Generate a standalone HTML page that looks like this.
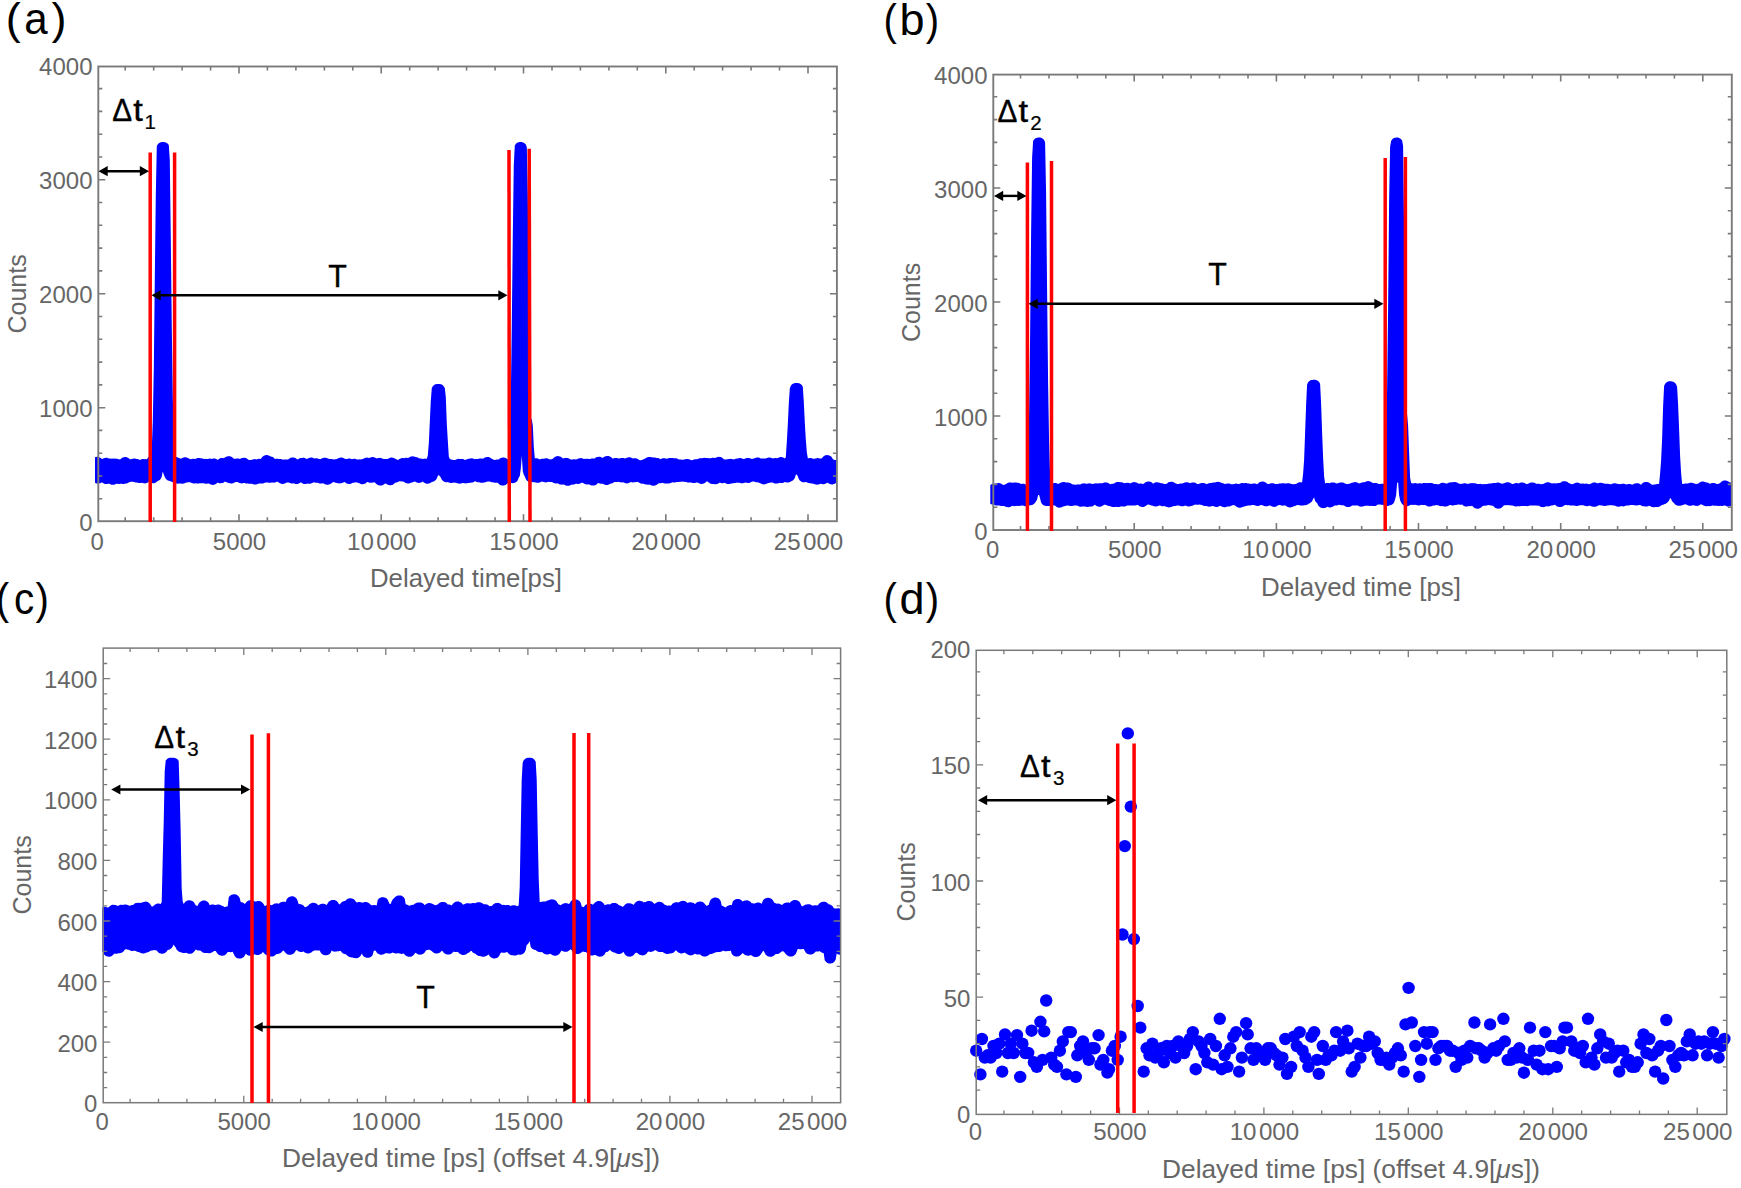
<!DOCTYPE html>
<html><head><meta charset="utf-8"><title>Delayed time histograms</title>
<style>
html,body{margin:0;padding:0;background:#fff;}
body{width:1741px;height:1188px;overflow:hidden;}
svg{display:block;font-family:"Liberation Sans",sans-serif;}
</style></head><body>
<svg width="1741" height="1188" viewBox="0 0 1741 1188">
<rect width="1741" height="1188" fill="#fff"/>
<g id="pa">
<clipPath id="ca"><rect x="95" y="60" width="742" height="470"/></clipPath>
<path clip-path="url(#ca)" fill="#0000ff" d="M91.8 460.1L92.8 458.7L93.8 457.8L94.8 457.3L95.8 456.9L96.8 456.8L97.8 456.8L98.8 457L99.8 457.4L100.8 458L101.8 458.9L102.8 458.8L103.8 458.3L104.8 457.9L105.8 457.8L106.8 457.8L107.8 458L108.8 458.4L109.8 458.6L110.8 458.6L111.8 458.8L112.8 458.6L113.8 458.6L114.8 458.7L115.8 458.6L116.8 458.7L117.8 458.9L118.8 459.3L119.8 459.6L120.8 459L121.8 458.1L122.8 457.6L123.8 457.3L124.8 457.1L125.8 457.1L126.8 457.3L127.8 457.7L128.8 458.3L129.8 459.3L130.8 459.2L131.8 459.1L132.8 458.7L133.8 458.5L134.8 458.5L135.8 458.7L136.8 458.9L137.8 459.1L138.8 459.4L139.8 459.9L140.8 459.5L141.8 459.2L142.8 459L143.8 459L144.8 459.2L145.8 459.1L146.8 459.2L147.8 457.9L148.8 456.8L149.8 456.2L150.8 455.7L151.8 448.1L152.8 420.6L153.8 369L154.8 279.3L155.8 195L156.8 146L157.8 144.2L158.8 143.3L159.8 142.7L160.8 142.3L161.8 142.1L162.8 142.1L163.8 142.1L164.8 142.2L165.8 142.5L166.8 142.9L167.8 143.7L168.8 145L169.8 160.1L170.8 237.9L171.8 327.1L172.8 396.8L173.8 436L174.8 456.5L175.8 456.9L176.8 457.1L177.8 457.5L178.8 458.1L179.8 458.3L180.8 458.7L181.8 458.3L182.8 457.7L183.8 457.4L184.8 457.3L185.8 457.3L186.8 457.5L187.8 457.9L188.8 458.5L189.8 459.1L190.8 459.2L191.8 458.9L192.8 458.8L193.8 458.8L194.8 459.1L195.8 458.7L196.8 458.3L197.8 458.1L198.8 458L199.8 458.1L200.8 458.3L201.8 458.4L202.8 458.6L203.8 458.9L204.8 458.9L205.8 458.8L206.8 458.9L207.8 458.9L208.8 458.7L209.8 458.6L210.8 458.8L211.8 458.9L212.8 458.6L213.8 458.5L214.8 458.5L215.8 458.8L216.8 459.2L217.8 459.9L218.8 459L219.8 458.5L220.8 458.1L221.8 458L222.8 458L223.8 458.2L224.8 457.6L225.8 456.9L226.8 456.5L227.8 456.3L228.8 456.2L229.8 456.3L230.8 456.6L231.8 457.1L232.8 457.8L233.8 458.7L234.8 458.8L235.8 458.8L236.8 458.5L237.8 458.5L238.8 458.6L239.8 458.9L240.8 458.6L241.8 458.1L242.8 457.9L243.8 457.8L244.8 457.8L245.8 458.1L246.8 458.5L247.8 459.2L248.8 460L249.8 460L250.8 459.9L251.8 459.8L252.8 459.4L253.8 459.2L254.8 459.1L255.8 459.2L256.8 459.4L257.8 459L258.8 458.8L259.8 458.8L260.8 458.9L261.8 457.6L262.8 456.5L263.8 455.8L264.8 455.4L265.8 455.1L266.8 455.1L267.8 455.2L268.8 455.5L269.8 455.9L270.8 456.5L271.8 456.7L272.8 457.1L273.8 457.8L274.8 458.9L275.8 458.8L276.8 458.7L277.8 458.7L278.8 459L279.8 458.9L280.8 459L281.8 459.3L282.8 459.7L283.8 459.6L284.8 459.6L285.8 459.6L286.8 459.6L287.8 459.4L288.8 459L289.8 458.3L290.8 457.8L291.8 457.5L292.8 457.4L293.8 457.5L294.8 457.7L295.8 458.2L296.8 458.9L297.8 459.5L298.8 458.8L299.8 458.3L300.8 458L301.8 457.9L302.8 457.8L303.8 457.8L304.8 458L305.8 458.4L306.8 459L307.8 458.6L308.8 458.1L309.8 457.7L310.8 457.6L311.8 457.6L312.8 457.8L313.8 458.2L314.8 458.5L315.8 458.3L316.8 458.3L317.8 458.5L318.8 458.9L319.8 459L320.8 459.1L321.8 458.4L322.8 458L323.8 457.7L324.8 457.7L325.8 457.8L326.8 458.1L327.8 458.5L328.8 458.7L329.8 458.9L330.8 458.9L331.8 459L332.8 459.3L333.8 459.5L334.8 459.3L335.8 459.2L336.8 458.9L337.8 458.6L338.8 458.1L339.8 457.8L340.8 457.6L341.8 457.6L342.8 457.8L343.8 458.2L344.8 458.7L345.8 459L346.8 459L347.8 458.7L348.8 458.6L349.8 458.6L350.8 458.8L351.8 459.2L352.8 458.9L353.8 458.8L354.8 458.8L355.8 459L356.8 459.4L357.8 459.6L358.8 459.4L359.8 459.3L360.8 459.4L361.8 459.2L362.8 458.9L363.8 458.5L364.8 458L365.8 457.7L366.8 457.6L367.8 457.7L368.8 457.9L369.8 457.8L370.8 457.4L371.8 457.1L372.8 457.1L373.8 457.2L374.8 457.5L375.8 458L376.8 458.5L377.8 458.1L378.8 457.9L379.8 457.8L380.8 457.9L381.8 458.2L382.8 458.7L383.8 459L384.8 458.9L385.8 458.9L386.8 459.1L387.8 459L388.8 458.3L389.8 457.9L390.8 457.6L391.8 457.6L392.8 457.7L393.8 458L394.8 458.4L395.8 459L396.8 459.5L397.8 460.1L398.8 459.5L399.8 458.8L400.8 458.4L401.8 458.1L402.8 458.1L403.8 458.2L404.8 457.9L405.8 457.7L406.8 457.7L407.8 457.9L408.8 457.8L409.8 457.1L410.8 456.6L411.8 456.4L412.8 456.3L413.8 456.4L414.8 456.7L415.8 456.9L416.8 457.2L417.8 457.6L418.8 458.3L419.8 458.6L420.8 458.6L421.8 458.7L422.8 458.9L423.8 458.7L424.8 458.6L425.8 458.7L426.8 458.8L427.8 455.4L428.8 443.6L429.8 422L430.8 400.7L431.8 388L432.8 386.3L433.8 385.3L434.8 384.6L435.8 384.2L436.8 383.9L437.8 383.9L438.8 383.9L439.8 383.9L440.8 384.2L441.8 384.6L442.8 385.3L443.8 386.4L444.8 387.9L445.8 396.9L446.8 423.7L447.8 440.4L448.8 456.5L449.8 458.9L450.8 459.3L451.8 459.7L452.8 459.8L453.8 459.9L454.8 460L455.8 459.7L456.8 459.2L457.8 458.9L458.8 458.8L459.8 458.9L460.8 458.9L461.8 458.9L462.8 459L463.8 459.3L464.8 459.9L465.8 459.7L466.8 459.2L467.8 458.9L468.8 458.8L469.8 458.6L470.8 458.4L471.8 458.3L472.8 458.4L473.8 458.7L474.8 459.2L475.8 459L476.8 458.9L477.8 459L478.8 458.8L479.8 458.6L480.8 458.5L481.8 458.6L482.8 458.8L483.8 458.2L484.8 457.5L485.8 457.2L486.8 457L487.8 456.9L488.8 457.1L489.8 457.4L490.8 458L491.8 458.8L492.8 459.3L493.8 459.8L494.8 460L495.8 459.7L496.8 459.6L497.8 459.6L498.8 459.4L499.8 458.6L500.8 458L501.8 457.7L502.8 457.6L503.8 457.6L504.8 457.8L505.8 458.1L506.8 458.8L507.8 459.4L508.8 458.7L509.8 439.9L510.8 397.8L511.8 323.8L512.8 235.5L513.8 165.1L514.8 145.4L515.8 144L516.8 143.1L517.8 142.6L518.8 142.2L519.8 142.1L520.8 142.1L521.8 142.1L522.8 142.4L523.8 142.8L524.8 143.5L525.8 144.6L526.8 146.9L527.8 193.9L528.8 281.8L529.8 364.8L530.8 418.2L531.8 419.6L532.8 425.6L533.8 447L534.8 458.3L535.8 458.2L536.8 458.3L537.8 458.6L538.8 459.1L539.8 459.4L540.8 459.1L541.8 458.8L542.8 458.7L543.8 458.7L544.8 458.5L545.8 458.3L546.8 458.3L547.8 458.5L548.8 458.9L549.8 459.4L550.8 459.2L551.8 459.2L552.8 458.8L553.8 457.7L554.8 457L555.8 456.5L556.8 456.2L557.8 456.1L558.8 456.2L559.8 456.4L560.8 456.8L561.8 457.5L562.8 458.6L563.8 458.3L564.8 458L565.8 457.8L566.8 457.9L567.8 458L568.8 458.4L569.8 459L570.8 459.5L571.8 459.6L572.8 459.4L573.8 459.3L574.8 459.2L575.8 459.4L576.8 459.3L577.8 458.8L578.8 458.4L579.8 458.2L580.8 458.1L581.8 458.2L582.8 458.5L583.8 458.9L584.8 458.8L585.8 459L586.8 458.8L587.8 458.8L588.8 458.9L589.8 459L590.8 458.7L591.8 458.5L592.8 458.5L593.8 458.6L594.8 458.4L595.8 457.6L596.8 457.1L597.8 456.9L598.8 456.7L599.8 456.8L600.8 457L601.8 457.5L602.8 458.1L603.8 457.1L604.8 456.5L605.8 456.2L606.8 456L607.8 455.9L608.8 456.1L609.8 456.4L610.8 457L611.8 457.8L612.8 458.8L613.8 458.3L614.8 458L615.8 457.9L616.8 458L617.8 458.2L618.8 458.4L619.8 458.4L620.8 458L621.8 457.9L622.8 457.9L623.8 458.1L624.8 458.5L625.8 458.3L626.8 457.7L627.8 457.4L628.8 457.3L629.8 457.3L630.8 457.5L631.8 457.9L632.8 458.5L633.8 458.2L634.8 458.2L635.8 458.3L636.8 458.5L637.8 459L638.8 459.8L639.8 460.3L640.8 460.3L641.8 460L642.8 459.6L643.8 459.2L644.8 458.7L645.8 458.1L646.8 457.6L647.8 457.3L648.8 457.1L649.8 457L650.8 457L651.8 457.2L652.8 457.6L653.8 457.5L654.8 457.5L655.8 457.7L656.8 457.9L657.8 458L658.8 458.3L659.8 458.8L660.8 459.2L661.8 458.6L662.8 458.3L663.8 458.2L664.8 458.2L665.8 458.4L666.8 458.7L667.8 458.4L668.8 458.1L669.8 458L670.8 457.9L671.8 457.9L672.8 458L673.8 458.3L674.8 458.2L675.8 458.2L676.8 458.4L677.8 458.8L678.8 459.4L679.8 459.5L680.8 459.5L681.8 459.7L682.8 459.7L683.8 459.5L684.8 459.4L685.8 459.1L686.8 459L687.8 459.1L688.8 459.2L689.8 459.5L690.8 460L691.8 460.2L692.8 460.1L693.8 459.6L694.8 459.3L695.8 459.2L696.8 459.3L697.8 459.1L698.8 458.6L699.8 458.3L700.8 458.2L701.8 458.2L702.8 458.1L703.8 457.9L704.8 457.8L705.8 457.9L706.8 458.1L707.8 458L708.8 458.2L709.8 458.3L710.8 458.2L711.8 457.9L712.8 457.7L713.8 457.7L714.8 457.9L715.8 457.7L716.8 457.2L717.8 456.9L718.8 456.8L719.8 456.9L720.8 457.1L721.8 457.6L722.8 458.3L723.8 459.3L724.8 459.4L725.8 459.4L726.8 459.3L727.8 459.2L728.8 459.1L729.8 458.9L730.8 458.8L731.8 459L732.8 459.3L733.8 459.5L734.8 459L735.8 458.7L736.8 458.6L737.8 458.4L738.8 458.2L739.8 458.1L740.8 458.1L741.8 458.4L742.8 458.8L743.8 458.9L744.8 458.8L745.8 458.3L746.8 458L747.8 457.9L748.8 458L749.8 458.2L750.8 458.6L751.8 459.1L752.8 458.7L753.8 458.4L754.8 458.2L755.8 457.8L756.8 457.6L757.8 457.5L758.8 457.6L759.8 457.9L760.8 458.4L761.8 458.5L762.8 458.4L763.8 458.4L764.8 458.6L765.8 458.6L766.8 458L767.8 457.7L768.8 457.5L769.8 457.5L770.8 457.7L771.8 458.1L772.8 458.5L773.8 458.2L774.8 458.1L775.8 458.1L776.8 458.3L777.8 457.9L778.8 457.5L779.8 457.2L780.8 457.1L781.8 457.1L782.8 457.4L783.8 457.8L784.8 458.5L785.8 457.2L786.8 442.3L787.8 424.7L788.8 403.4L789.8 388.5L790.8 385.8L791.8 384.6L792.8 383.8L793.8 383.4L794.8 383.1L795.8 383L796.8 383L797.8 383L798.8 383.2L799.8 383.6L800.8 384.2L801.8 385.1L802.8 386.8L803.8 402.1L804.8 422.5L805.8 439.5L806.8 451.9L807.8 458.3L808.8 458.3L809.8 458.1L810.8 458.1L811.8 458.2L812.8 458.6L813.8 458.9L814.8 458.6L815.8 458.4L816.8 458.2L817.8 458.1L818.8 458.2L819.8 458.5L820.8 458.6L821.8 458.5L822.8 457L823.8 456.2L824.8 455.6L825.8 455.3L826.8 455.1L827.8 455.2L828.8 455.3L829.8 455.7L830.8 456.3L831.8 457.3L832.8 459L833.8 459.7L834.8 459.9L835.8 460.1L836.8 460.2L837.8 460.5L838.8 461.1L839.8 461.9L840.8 463.4L841.8 465.2L841.8 478.8L840.8 480.5L839.8 481.5L838.8 482.1L837.8 482.5L836.8 482.6L835.8 483L834.8 483.7L833.8 484.1L832.8 484.4L831.8 484.4L830.8 484.3L829.8 484.1L828.8 483.6L827.8 482.8L826.8 483L825.8 483.6L824.8 484L823.8 484.2L822.8 484.2L821.8 484.1L820.8 483.7L819.8 483.9L818.8 484.4L817.8 484.6L816.8 484.7L815.8 484.5L814.8 484.3L813.8 483.8L812.8 483.7L811.8 483.6L810.8 483.3L809.8 483.3L808.8 483.1L807.8 482.7L806.8 482.2L805.8 482.1L804.8 482.3L803.8 482.3L802.8 482.2L801.8 481.9L800.8 481.3L799.8 480.5L798.8 479L797.8 476.3L796.8 474.6L795.8 474.8L794.8 478.1L793.8 479.5L792.8 480.4L791.8 480.9L790.8 481.6L789.8 482.1L788.8 482.4L787.8 482.5L786.8 482.4L785.8 482.2L784.8 482.1L783.8 482.6L782.8 482.9L781.8 483L780.8 482.9L779.8 482.7L778.8 483.1L777.8 483.4L776.8 483.6L775.8 483.6L774.8 483.5L773.8 483.2L772.8 482.6L771.8 482.5L770.8 482.6L769.8 482.7L768.8 483.1L767.8 483.3L766.8 483.6L765.8 484.1L764.8 484.3L763.8 484.4L762.8 484.3L761.8 484L760.8 483.5L759.8 483.1L758.8 482.8L757.8 482.3L756.8 482.3L755.8 482.2L754.8 481.8L753.8 481.4L752.8 481.5L751.8 481.8L750.8 482.3L749.8 482.7L748.8 482.9L747.8 482.9L746.8 482.8L745.8 482.5L744.8 482.7L743.8 483.1L742.8 483.3L741.8 483.3L740.8 483.2L739.8 482.8L738.8 482.7L737.8 482.7L736.8 482.5L735.8 482.9L734.8 483.1L733.8 483.2L732.8 483.3L731.8 483.6L730.8 483.6L729.8 483.9L728.8 484L727.8 484L726.8 483.8L725.8 483.4L724.8 482.8L723.8 483.1L722.8 483.2L721.8 483.2L720.8 482.9L719.8 482.5L718.8 483.2L717.8 483.8L716.8 484.1L715.8 484.2L714.8 484.2L713.8 484.1L712.8 484.1L711.8 484L710.8 483.7L709.8 483.2L708.8 482.5L707.8 481.8L706.8 481.2L705.8 482.3L704.8 483.1L703.8 483.6L702.8 483.8L701.8 483.9L700.8 483.9L699.8 483.6L698.8 483.2L697.8 482.5L696.8 482.4L695.8 482.8L694.8 483L693.8 483.1L692.8 483L691.8 482.7L690.8 482.5L689.8 482.4L688.8 482.6L687.8 482.5L686.8 482.3L685.8 481.8L684.8 481.9L683.8 481.8L682.8 481.6L681.8 481.7L680.8 481.8L679.8 481.8L678.8 481.9L677.8 482.1L676.8 482.1L675.8 482.3L674.8 482.5L673.8 482.4L672.8 482.2L671.8 482.5L670.8 483L669.8 483.3L668.8 483.5L667.8 483.5L666.8 483.5L665.8 483.6L664.8 483.5L663.8 483.2L662.8 482.7L661.8 483.1L660.8 483.3L659.8 483.3L658.8 483.2L657.8 483.9L656.8 484.7L655.8 485.3L654.8 485.6L653.8 485.8L652.8 485.7L651.8 485.5L650.8 485.2L649.8 484.6L648.8 484.7L647.8 484.7L646.8 484.6L645.8 484.4L644.8 484.2L643.8 483.8L642.8 483.8L641.8 483.7L640.8 483.5L639.8 483.1L638.8 482.4L637.8 481.8L636.8 482L635.8 482.1L634.8 482.2L633.8 482.3L632.8 482.4L631.8 482.2L630.8 481.9L629.8 482.6L628.8 483.1L627.8 483.3L626.8 483.4L625.8 483.3L624.8 483L623.8 482.5L622.8 482.2L621.8 482.4L620.8 482.3L619.8 482.2L618.8 481.8L617.8 482L616.8 482L615.8 482L614.8 482.1L613.8 482.3L612.8 483L611.8 483.4L610.8 483.6L609.8 484.1L608.8 484.6L607.8 484.9L606.8 485L605.8 484.9L604.8 484.7L603.8 484.3L602.8 483.7L601.8 483.8L600.8 483.8L599.8 483.6L598.8 483.3L597.8 483.1L596.8 484.2L595.8 484.9L594.8 485.3L593.8 485.5L592.8 485.6L591.8 485.5L590.8 485.2L589.8 484.7L588.8 484.2L587.8 484.4L586.8 484.4L585.8 484.2L584.8 483.9L583.8 483.4L582.8 482.8L581.8 482.7L580.8 483.2L579.8 483.6L578.8 483.9L577.8 483.9L576.8 483.8L575.8 483.8L574.8 484.3L573.8 484.6L572.8 484.7L571.8 484.6L570.8 484.9L569.8 485.4L568.8 485.7L567.8 485.8L566.8 485.7L565.8 485.5L564.8 485L563.8 484.4L562.8 484.6L561.8 484.7L560.8 484.6L559.8 484.4L558.8 483.9L557.8 483.3L556.8 483.4L555.8 483.4L554.8 483.3L553.8 483L552.8 482.6L551.8 481.9L550.8 482L549.8 481.9L548.8 481.7L547.8 482.1L546.8 482.3L545.8 482.4L544.8 482.3L543.8 482L542.8 481.7L541.8 481.5L540.8 481.9L539.8 482.4L538.8 482.7L537.8 482.8L536.8 482.7L535.8 482.5L534.8 482.2L533.8 482.2L532.8 482.1L531.8 482.3L530.8 482.3L529.8 482.1L528.8 481.8L527.8 481.2L526.8 480.4L525.8 479L524.8 476.6L523.8 474.8L522.8 471.2L521.8 455.9L520.8 468.5L519.8 476.1L518.8 477.6L517.8 480.3L516.8 481.6L515.8 482.3L514.8 482.8L513.8 483.1L512.8 483.2L511.8 483.1L510.8 482.9L509.8 482.6L508.8 482.5L507.8 483.1L506.8 484.1L505.8 484.8L504.8 485.3L503.8 485.5L502.8 485.6L501.8 485.5L500.8 485.2L499.8 484.7L498.8 483.9L497.8 482.7L496.8 482.8L495.8 482.8L494.8 482.7L493.8 482.4L492.8 482.2L491.8 482.2L490.8 482L489.8 481.6L488.8 481.6L487.8 481.6L486.8 481.7L485.8 482.1L484.8 482.4L483.8 482.6L482.8 482.7L481.8 482.8L480.8 482.7L479.8 482.4L478.8 482.2L477.8 482.2L476.8 482L475.8 481.6L474.8 481.3L473.8 481.9L472.8 482.4L471.8 482.6L470.8 482.7L469.8 482.8L468.8 482.9L467.8 483L466.8 483.3L465.8 483.4L464.8 483.3L463.8 483.1L462.8 483L461.8 483.3L460.8 483.6L459.8 483.7L458.8 483.6L457.8 483.4L456.8 483L455.8 482.8L454.8 482.8L453.8 482.6L452.8 482.7L451.8 482.9L450.8 482.9L449.8 482.7L448.8 482.4L447.8 482.1L446.8 482.2L445.8 482.2L444.8 481.9L443.8 481.5L442.8 480.8L441.8 479.7L440.8 477.6L439.8 476.3L438.8 474.9L437.8 475.9L436.8 478.5L435.8 480L434.8 480.8L433.8 481.4L432.8 481.7L431.8 481.9L430.8 482.7L429.8 483.2L428.8 483.6L427.8 483.7L426.8 483.7L425.8 483.5L424.8 483.1L423.8 482.5L422.8 481.6L421.8 482.2L420.8 482.6L419.8 482.8L418.8 482.9L417.8 482.8L416.8 482.5L415.8 482L414.8 481.5L413.8 481.7L412.8 482.2L411.8 482.4L410.8 482.8L409.8 483.2L408.8 483.4L407.8 483.4L406.8 483.3L405.8 482.9L404.8 482.4L403.8 481.8L402.8 481.5L401.8 481.5L400.8 481.3L399.8 481.2L398.8 481.4L397.8 482L396.8 482.4L395.8 482.6L394.8 483.1L393.8 484.1L392.8 484.7L391.8 485.1L390.8 485.3L389.8 485.3L388.8 485.1L387.8 484.8L386.8 484.3L385.8 483.4L384.8 483.7L383.8 484.5L382.8 485.1L381.8 485.4L380.8 485.6L379.8 485.5L378.8 485.3L377.8 485L376.8 484.3L375.8 483.4L374.8 482.3L373.8 482.5L372.8 482.6L371.8 482.7L370.8 482.8L369.8 482.7L368.8 482.4L367.8 482L366.8 482.3L365.8 483.2L364.8 483.7L363.8 484.1L362.8 484.2L361.8 484.2L360.8 484L359.8 483.6L358.8 483L357.8 482.7L356.8 482.4L355.8 482.2L354.8 482.6L353.8 482.8L352.8 482.8L351.8 483.3L350.8 483.7L349.8 483.9L348.8 483.9L347.8 483.8L346.8 483.4L345.8 482.9L344.8 482L343.8 482.2L342.8 482.7L341.8 483.1L340.8 483.3L339.8 483.4L338.8 483.3L337.8 483.2L336.8 483L335.8 482.8L334.8 482.5L333.8 482.1L332.8 482.2L331.8 482.9L330.8 483.7L329.8 484.3L328.8 484.6L327.8 484.8L326.8 484.7L325.8 484.5L324.8 484.2L323.8 483.5L322.8 483.3L321.8 483.6L320.8 483.6L319.8 483.5L318.8 483.2L317.8 482.7L316.8 482.8L315.8 482.8L314.8 482.6L313.8 482.2L312.8 482.7L311.8 483.2L310.8 483.5L309.8 483.7L308.8 483.7L307.8 483.5L306.8 483.8L305.8 484L304.8 484L303.8 483.9L302.8 483.5L301.8 483L300.8 482.3L299.8 483.1L298.8 483.6L297.8 483.9L296.8 484L295.8 483.9L294.8 483.7L293.8 483.3L292.8 483.4L291.8 483.5L290.8 483.3L289.8 483L288.8 482.5L287.8 482.6L286.8 482.6L285.8 483L284.8 483.5L283.8 483.8L282.8 483.9L281.8 483.9L280.8 483.6L279.8 483.2L278.8 482.5L277.8 481.7L276.8 481.7L275.8 482.2L274.8 482.5L273.8 482.7L272.8 482.6L271.8 482.5L270.8 482.7L269.8 482.8L268.8 482.7L267.8 482.5L266.8 482.5L265.8 482.6L264.8 482.7L263.8 483.2L262.8 483.5L261.8 483.6L260.8 483.6L259.8 483.6L258.8 483.5L257.8 484L256.8 484.3L255.8 484.5L254.8 484.6L253.8 484.4L252.8 484.1L251.8 483.7L250.8 483.7L249.8 483.8L248.8 483.8L247.8 483.6L246.8 483.5L245.8 483.4L244.8 483.1L243.8 483L242.8 483.3L241.8 483.4L240.8 483.3L239.8 483.1L238.8 482.7L237.8 482L236.8 482L235.8 481.9L234.8 482.3L233.8 482.9L232.8 483.3L231.8 483.5L230.8 483.5L229.8 483.3L228.8 483.1L227.8 482.7L226.8 482.2L225.8 482L224.8 481.6L223.8 482.4L222.8 482.9L221.8 483.1L220.8 483.2L219.8 483.2L218.8 482.9L217.8 482.5L216.8 483.2L215.8 484L214.8 484.5L213.8 484.8L212.8 484.9L211.8 484.8L210.8 484.6L209.8 484.1L208.8 483.4L207.8 483.6L206.8 483.7L205.8 483.7L204.8 483.5L203.8 483.2L202.8 483.2L201.8 483.2L200.8 483.2L199.8 483.3L198.8 483.5L197.8 483.6L196.8 483.5L195.8 483.3L194.8 483.5L193.8 483.5L192.8 483.3L191.8 483L190.8 482.5L189.8 482.2L188.8 482.2L187.8 482.2L186.8 482.5L185.8 482.7L184.8 483.3L183.8 483.6L182.8 483.7L181.8 483.7L180.8 483.6L179.8 483.5L178.8 483.6L177.8 483.7L176.8 483.6L175.8 483.3L174.8 482.8L173.8 482.5L172.8 482.3L171.8 481.8L170.8 481.4L169.8 481.1L168.8 480.8L167.8 480.4L166.8 479.8L165.8 478.8L164.8 477.1L163.8 474.6L162.8 471.6L161.8 476.5L160.8 478.8L159.8 479.9L158.8 480.6L157.8 481L156.8 481.8L155.8 482.5L154.8 482.9L153.8 483.2L152.8 483.2L151.8 483.1L150.8 482.8L149.8 482.3L148.8 481.7L147.8 482.5L146.8 483L145.8 483.3L144.8 483.4L143.8 483.3L142.8 483.1L141.8 482.8L140.8 483L139.8 483.1L138.8 483L137.8 482.8L136.8 482.6L135.8 482.5L134.8 482.3L133.8 482L132.8 481.8L131.8 481.8L130.8 481.7L129.8 481.9L128.8 482.4L127.8 483L126.8 483.4L125.8 483.6L124.8 483.7L123.8 483.9L122.8 484L121.8 483.8L120.8 483.8L119.8 484L118.8 484L117.8 483.8L116.8 483.7L115.8 484.1L114.8 484.5L113.8 484.7L112.8 484.8L111.8 484.7L110.8 484.4L109.8 483.9L108.8 483.6L107.8 484L106.8 484.1L105.8 484.1L104.8 483.9L103.8 483.5L102.8 482.9L101.8 482.2L100.8 482.9L99.8 483.3L98.8 483.5L97.8 483.6L96.8 483.5L95.8 483.2L94.8 482.7L93.8 482.1L92.8 481.3L91.8 480Z"/>
<rect x="98.3" y="66.5" width="738.6" height="454.7" fill="none" stroke="#7a7a7a" stroke-width="1.9"/><path d="M125.2 521.2v-4M125.2 66.5v4M153.7 521.2v-4M153.7 66.5v4M182.1 521.2v-4M182.1 66.5v4M210.6 521.2v-4M210.6 66.5v4M239 521.2v-7M239 66.5v7M267.4 521.2v-4M267.4 66.5v4M295.9 521.2v-4M295.9 66.5v4M324.4 521.2v-4M324.4 66.5v4M352.8 521.2v-4M352.8 66.5v4M381.2 521.2v-7M381.2 66.5v7M409.7 521.2v-4M409.7 66.5v4M438.1 521.2v-4M438.1 66.5v4M466.6 521.2v-4M466.6 66.5v4M495.1 521.2v-4M495.1 66.5v4M523.5 521.2v-7M523.5 66.5v7M552 521.2v-4M552 66.5v4M580.4 521.2v-4M580.4 66.5v4M608.9 521.2v-4M608.9 66.5v4M637.3 521.2v-4M637.3 66.5v4M665.8 521.2v-7M665.8 66.5v7M694.2 521.2v-4M694.2 66.5v4M722.6 521.2v-4M722.6 66.5v4M751.1 521.2v-4M751.1 66.5v4M779.5 521.2v-4M779.5 66.5v4M808 521.2v-7M808 66.5v7M98.3 498.8h4M836.9 498.8h-4M98.3 476h4M836.9 476h-4M98.3 453.2h4M836.9 453.2h-4M98.3 430.4h4M836.9 430.4h-4M98.3 407.7h7M836.9 407.7h-7M98.3 384.9h4M836.9 384.9h-4M98.3 362.1h4M836.9 362.1h-4M98.3 339.3h4M836.9 339.3h-4M98.3 316.5h4M836.9 316.5h-4M98.3 293.7h7M836.9 293.7h-7M98.3 270.9h4M836.9 270.9h-4M98.3 248.1h4M836.9 248.1h-4M98.3 225.3h4M836.9 225.3h-4M98.3 202.5h4M836.9 202.5h-4M98.3 179.8h7M836.9 179.8h-7M98.3 157h4M836.9 157h-4M98.3 134.2h4M836.9 134.2h-4M98.3 111.4h4M836.9 111.4h-4M98.3 88.6h4M836.9 88.6h-4" stroke="#7a7a7a" stroke-width="1.6" fill="none"/>
<path d="M150.2 152.5L150.2 522" stroke="#ff0000" stroke-width="3.5"/>
<path d="M174.6 152.5L174.6 522" stroke="#ff0000" stroke-width="3.5"/>
<path d="M509 150L509.3 522" stroke="#ff0000" stroke-width="3.5"/>
<path d="M529.2 148.7L530 522" stroke="#ff0000" stroke-width="3.5"/>
<path d="M104.9 171.2H142.6" stroke="#000" stroke-width="2.4" fill="none"/><path d="M98.5 171.2l9.2 -5.1v10.2z" fill="#000"/><path d="M149 171.2l-9.2 -5.1v10.2z" fill="#000"/>
<path d="M157.9 295.3H501.1" stroke="#000" stroke-width="2.4" fill="none"/><path d="M151.5 295.3l9.2 -5.1v10.2z" fill="#000"/><path d="M507.5 295.3l-9.2 -5.1v10.2z" fill="#000"/>
<g fill="#666666"><text x="97.2" y="549.6" text-anchor="middle" font-size="24.3" textLength="13.3" lengthAdjust="spacingAndGlyphs">0</text><text x="239.5" y="549.6" text-anchor="middle" font-size="24.3" textLength="53.4" lengthAdjust="spacingAndGlyphs">5000</text><text x="381.8" y="549.6" text-anchor="middle" font-size="24.3" textLength="69.5" lengthAdjust="spacingAndGlyphs">10<tspan dx="2.4">000</tspan></text><text x="524" y="549.6" text-anchor="middle" font-size="24.3" textLength="69.5" lengthAdjust="spacingAndGlyphs">15<tspan dx="2.4">000</tspan></text><text x="666.2" y="549.6" text-anchor="middle" font-size="24.3" textLength="69.5" lengthAdjust="spacingAndGlyphs">20<tspan dx="2.4">000</tspan></text><text x="808.5" y="549.6" text-anchor="middle" font-size="24.3" textLength="69.5" lengthAdjust="spacingAndGlyphs">25<tspan dx="2.4">000</tspan></text><text x="92.5" y="531.1" text-anchor="end" font-size="24.3" textLength="13.3" lengthAdjust="spacingAndGlyphs">0</text><text x="92.5" y="417.2" text-anchor="end" font-size="24.3" textLength="53.4" lengthAdjust="spacingAndGlyphs">1000</text><text x="92.5" y="303.2" text-anchor="end" font-size="24.3" textLength="53.4" lengthAdjust="spacingAndGlyphs">2000</text><text x="92.5" y="189.3" text-anchor="end" font-size="24.3" textLength="53.4" lengthAdjust="spacingAndGlyphs">3000</text><text x="92.5" y="75.3" text-anchor="end" font-size="24.3" textLength="53.4" lengthAdjust="spacingAndGlyphs">4000</text></g>
<text font-size="32.2" fill="#000" stroke="#000" stroke-width="0.3" x="112.3" y="121" textLength="19.9" lengthAdjust="spacingAndGlyphs">Δ</text><text font-size="31" fill="#000" stroke="#000" stroke-width="0.35" x="133.2" y="121" textLength="9.6" lengthAdjust="spacingAndGlyphs">t</text><text font-size="20.5" fill="#000" stroke="#000" stroke-width="0.2" x="144.4" y="129">1</text>
<text x="337.5" y="287.3" font-size="32.2" text-anchor="middle" fill="#000" stroke="#000" stroke-width="0.35" textLength="18.6" lengthAdjust="spacingAndGlyphs">T</text>
<text fill="#000" font-size="45" x="5.8" y="34" textLength="15" lengthAdjust="spacingAndGlyphs">(</text><text fill="#000" font-size="45" x="24.2" y="34" textLength="23.4" lengthAdjust="spacingAndGlyphs">a</text><text fill="#000" font-size="45" x="51.4" y="34" textLength="15" lengthAdjust="spacingAndGlyphs">)</text>
<text transform="translate(25.6 293.9) rotate(-90)" text-anchor="middle" font-size="26.6" fill="#666666" textLength="79.3" lengthAdjust="spacingAndGlyphs">Counts</text>
<text x="466" y="586.5" text-anchor="middle" font-size="25.8" fill="#666666" textLength="192" lengthAdjust="spacingAndGlyphs">Delayed time[ps]</text>
</g>
<g id="pb">
<clipPath id="cb"><rect x="990.3" y="60" width="741.7" height="480"/></clipPath>
<path clip-path="url(#cb)" fill="#0000ff" d="M987.1 488.7L988.1 487.3L989.1 486L990.1 485L991.1 484.4L992.1 484L993.1 483.8L994.1 483.8L995.1 483.7L996.1 483.4L997.1 483.3L998.1 483.1L999.1 483.1L1000.1 483.3L1001.1 483.7L1002.1 484.3L1003.1 484.9L1004.1 484.7L1005.1 484.6L1006.1 484.1L1007.1 483.3L1008.1 482.8L1009.1 482.5L1010.1 482.4L1011.1 482.5L1012.1 482.7L1013.1 482.8L1014.1 482.6L1015.1 482.5L1016.1 482.6L1017.1 482.7L1018.1 482.8L1019.1 483.1L1020.1 483.6L1021.1 483.9L1022.1 483.7L1023.1 483.7L1024.1 483.8L1025.1 484.2L1026.1 484.7L1027.1 481.5L1028.1 457.5L1029.1 412.7L1030.1 334.7L1031.1 232.3L1032.1 157.5L1033.1 140.9L1034.1 139.4L1035.1 138.6L1036.1 138L1037.1 137.7L1038.1 137.6L1039.1 137.5L1040.1 137.6L1041.1 137.8L1042.1 138.3L1043.1 139L1044.1 140L1045.1 142.3L1046.1 193.6L1047.1 291.2L1048.1 383.1L1049.1 442.1L1050.1 474.9L1051.1 483.2L1052.1 483.4L1053.1 483.2L1054.1 483L1055.1 482.9L1056.1 483.1L1057.1 483.4L1058.1 484L1059.1 483.5L1060.1 482.9L1061.1 482.5L1062.1 482.3L1063.1 482.1L1064.1 482.1L1065.1 482.2L1066.1 482.6L1067.1 482.6L1068.1 482.6L1069.1 482.7L1070.1 483L1071.1 483.5L1072.1 484.2L1073.1 484.4L1074.1 484.6L1075.1 484.7L1076.1 484.8L1077.1 484.5L1078.1 484.3L1079.1 484.4L1080.1 484.5L1081.1 483.9L1082.1 483.5L1083.1 483.4L1084.1 483.3L1085.1 483.5L1086.1 483.8L1087.1 483.7L1088.1 483.4L1089.1 483.3L1090.1 483.4L1091.1 483.6L1092.1 484L1093.1 483.9L1094.1 483.5L1095.1 483.4L1096.1 483.3L1097.1 483.5L1098.1 483.5L1099.1 483.3L1100.1 483.3L1101.1 483.3L1102.1 483.2L1103.1 483L1104.1 482.6L1105.1 482.4L1106.1 482.4L1107.1 482.6L1108.1 482.9L1109.1 483.4L1110.1 484.3L1111.1 484.1L1112.1 483.8L1113.1 483.8L1114.1 483.5L1115.1 482.8L1116.1 482.3L1117.1 482.1L1118.1 482L1119.1 482.1L1120.1 482.2L1121.1 482.2L1122.1 482.3L1123.1 482.7L1124.1 483.2L1125.1 483.1L1126.1 482.9L1127.1 482.8L1128.1 482.8L1129.1 483L1130.1 483.4L1131.1 483L1132.1 482.5L1133.1 482.2L1134.1 482.1L1135.1 482.2L1136.1 482.4L1137.1 482.8L1138.1 483.5L1139.1 483.7L1140.1 483.5L1141.1 483.6L1142.1 483.7L1143.1 484.1L1144.1 483.4L1145.1 482.5L1146.1 482L1147.1 481.7L1148.1 481.5L1149.1 481.5L1150.1 481.7L1151.1 482.1L1152.1 482.7L1153.1 483.7L1154.1 483L1155.1 482.6L1156.1 482.3L1157.1 482.3L1158.1 482.4L1159.1 482.6L1160.1 483.1L1161.1 483.3L1162.1 483.3L1163.1 483.5L1164.1 483.9L1165.1 484.1L1166.1 484.1L1167.1 483.4L1168.1 482.6L1169.1 482.1L1170.1 481.9L1171.1 481.8L1172.1 481.8L1173.1 482.1L1174.1 482.5L1175.1 483.2L1176.1 483.6L1177.1 484.1L1178.1 484L1179.1 484L1180.1 483.6L1181.1 483.5L1182.1 483.5L1183.1 483.3L1184.1 482.7L1185.1 482.4L1186.1 482.2L1187.1 482.3L1188.1 482.4L1189.1 482.8L1190.1 483.3L1191.1 482.8L1192.1 482.5L1193.1 482.4L1194.1 482.5L1195.1 482.7L1196.1 483.2L1197.1 483.9L1198.1 484L1199.1 483.7L1200.1 483.4L1201.1 483.1L1202.1 482.9L1203.1 482.9L1204.1 483.1L1205.1 483.5L1206.1 483.9L1207.1 484.1L1208.1 483.6L1209.1 483.2L1210.1 483L1211.1 483L1212.1 482.8L1213.1 482.5L1214.1 482.4L1215.1 482.5L1216.1 482.1L1217.1 481.9L1218.1 481.8L1219.1 481.9L1220.1 482.2L1221.1 482.7L1222.1 483.1L1223.1 483.3L1224.1 483.7L1225.1 484L1226.1 483.7L1227.1 483.6L1228.1 483.6L1229.1 483.6L1230.1 483.8L1231.1 484.2L1232.1 484.3L1233.1 484.2L1234.1 483.9L1235.1 483.7L1236.1 483.6L1237.1 483.7L1238.1 484L1239.1 484L1240.1 483.5L1241.1 483.2L1242.1 483.1L1243.1 483.1L1244.1 483.3L1245.1 483.1L1246.1 483.1L1247.1 483.3L1248.1 483.6L1249.1 483.6L1250.1 483.7L1251.1 483.9L1252.1 483.7L1253.1 483.4L1254.1 483.4L1255.1 483.5L1256.1 483.7L1257.1 484.2L1258.1 483.5L1259.1 482.6L1260.1 482.1L1261.1 481.8L1262.1 481.6L1263.1 481.6L1264.1 481.8L1265.1 482.2L1266.1 482.8L1267.1 483.8L1268.1 483.9L1269.1 483.9L1270.1 483.5L1271.1 483.3L1272.1 483.3L1273.1 483.3L1274.1 483.5L1275.1 483.9L1276.1 484.1L1277.1 483.9L1278.1 483.9L1279.1 483.6L1280.1 483.4L1281.1 483.4L1282.1 483.3L1283.1 483.2L1284.1 483.2L1285.1 483.4L1286.1 483.4L1287.1 483.2L1288.1 483.2L1289.1 483.3L1290.1 483.6L1291.1 484L1292.1 484L1293.1 484.2L1294.1 484.2L1295.1 484.1L1296.1 484.1L1297.1 483.2L1298.1 482.7L1299.1 482.3L1300.1 482.2L1301.1 482.2L1302.1 482.4L1303.1 473.8L1304.1 459.9L1305.1 432.8L1306.1 404.9L1307.1 384.6L1308.1 382.3L1309.1 381.2L1310.1 380.5L1311.1 380.1L1312.1 379.9L1313.1 379.8L1314.1 379.8L1315.1 379.8L1316.1 380L1317.1 380.4L1318.1 381L1319.1 382L1320.1 383.7L1321.1 403.6L1322.1 432.3L1323.1 457.7L1324.1 476.3L1325.1 483.4L1326.1 483.1L1327.1 483L1328.1 483L1329.1 483.2L1330.1 482.9L1331.1 482.6L1332.1 482.4L1333.1 482.4L1334.1 482.5L1335.1 482.8L1336.1 483.4L1337.1 483.3L1338.1 483.2L1339.1 482.8L1340.1 482.5L1341.1 482.4L1342.1 482.4L1343.1 482.6L1344.1 483L1345.1 483.6L1346.1 483.9L1347.1 483.9L1348.1 483.9L1349.1 483.8L1350.1 483.5L1351.1 483.1L1352.1 482.8L1353.1 482.4L1354.1 482.2L1355.1 482.1L1356.1 482.2L1357.1 482.5L1358.1 483L1359.1 483.6L1360.1 483.3L1361.1 482.8L1362.1 482.4L1363.1 482.3L1364.1 482.3L1365.1 482L1366.1 481.5L1367.1 481.2L1368.1 481.1L1369.1 481.2L1370.1 481.4L1371.1 481.9L1372.1 482.5L1373.1 483.2L1374.1 482.9L1375.1 482.9L1376.1 483L1377.1 483.3L1378.1 483.8L1379.1 483.9L1380.1 483.9L1381.1 483.7L1382.1 483.7L1383.1 483.7L1384.1 483.5L1385.1 476.1L1386.1 445.4L1387.1 388.1L1388.1 307.5L1389.1 201.3L1390.1 146.7L1391.1 140.9L1392.1 139.4L1393.1 138.6L1394.1 138L1395.1 137.7L1396.1 137.6L1397.1 137.5L1398.1 137.6L1399.1 137.9L1400.1 138.4L1401.1 139.2L1402.1 140.4L1403.1 145.9L1404.1 226.7L1405.1 327.2L1406.1 405.2L1407.1 414.7L1408.1 425.4L1409.1 452.2L1410.1 477.7L1411.1 483L1412.1 483.3L1413.1 483.4L1414.1 483.2L1415.1 483.1L1416.1 483.2L1417.1 483.5L1418.1 483.4L1419.1 483.3L1420.1 483.3L1421.1 483.5L1422.1 483.5L1423.1 483.1L1424.1 482.9L1425.1 482.9L1426.1 483L1427.1 483.3L1428.1 483.1L1429.1 483.1L1430.1 483L1431.1 483L1432.1 483.1L1433.1 483.5L1434.1 484L1435.1 484.1L1436.1 484.1L1437.1 484.2L1438.1 484.2L1439.1 484.2L1440.1 483.5L1441.1 483.1L1442.1 482.8L1443.1 482.8L1444.1 482.9L1445.1 483.2L1446.1 483.6L1447.1 483.6L1448.1 483.1L1449.1 482.6L1450.1 482.4L1451.1 482.3L1452.1 482.3L1453.1 482.3L1454.1 482.1L1455.1 482.1L1456.1 482.3L1457.1 482.6L1458.1 483.2L1459.1 483.6L1460.1 484L1461.1 483.8L1462.1 483.8L1463.1 483.5L1464.1 483.3L1465.1 483.3L1466.1 483.4L1467.1 483.8L1468.1 484L1469.1 483.6L1470.1 483.3L1471.1 483.2L1472.1 483.1L1473.1 483.2L1474.1 483.3L1475.1 483.3L1476.1 483.5L1477.1 483.9L1478.1 484.1L1479.1 483.9L1480.1 483.8L1481.1 483.9L1482.1 484.2L1483.1 484.3L1484.1 484.1L1485.1 484.2L1486.1 484L1487.1 484L1488.1 483.8L1489.1 483.6L1490.1 483.5L1491.1 483.6L1492.1 483.3L1493.1 483L1494.1 482.9L1495.1 483L1496.1 482.9L1497.1 482.6L1498.1 482.6L1499.1 482.7L1500.1 482.9L1501.1 483.4L1502.1 483.8L1503.1 483.5L1504.1 483.2L1505.1 482.7L1506.1 482.4L1507.1 482.2L1508.1 482.2L1509.1 482.4L1510.1 482.8L1511.1 483.4L1512.1 484L1513.1 484L1514.1 483.5L1515.1 483.2L1516.1 483.1L1517.1 483.1L1518.1 483.4L1519.1 483.2L1520.1 482.8L1521.1 482.5L1522.1 482.5L1523.1 482.6L1524.1 482.9L1525.1 483.3L1526.1 484.1L1527.1 483.9L1528.1 483.8L1529.1 483.3L1530.1 482.8L1531.1 482.5L1532.1 482.4L1533.1 482.4L1534.1 482.7L1535.1 483.1L1536.1 483.8L1537.1 483.7L1538.1 483.7L1539.1 483.7L1540.1 483.9L1541.1 484.2L1542.1 483.9L1543.1 483.9L1544.1 483.5L1545.1 482.9L1546.1 482.5L1547.1 482.3L1548.1 482.3L1549.1 482.4L1550.1 482.7L1551.1 483.3L1552.1 483.5L1553.1 483.3L1554.1 483.2L1555.1 483.3L1556.1 483.5L1557.1 483.2L1558.1 483L1559.1 483L1560.1 483L1561.1 482.2L1562.1 481.6L1563.1 481.3L1564.1 481.2L1565.1 481.2L1566.1 481.4L1567.1 481.7L1568.1 482.4L1569.1 483.3L1570.1 483.6L1571.1 484.1L1572.1 484.2L1573.1 484.1L1574.1 483.4L1575.1 482.9L1576.1 482.7L1577.1 482.6L1578.1 482.7L1579.1 483L1580.1 483.5L1581.1 483.8L1582.1 483.6L1583.1 483.6L1584.1 483.7L1585.1 483.8L1586.1 483.6L1587.1 483.7L1588.1 483.9L1589.1 484.2L1590.1 484.1L1591.1 483.4L1592.1 482.9L1593.1 482.6L1594.1 482.5L1595.1 482.6L1596.1 482.8L1597.1 483.2L1598.1 483.3L1599.1 482.9L1600.1 482.8L1601.1 482.8L1602.1 483L1603.1 483.2L1604.1 483.6L1605.1 483.7L1606.1 483.8L1607.1 483.7L1608.1 483.8L1609.1 484L1610.1 484.2L1611.1 484.3L1612.1 483.8L1613.1 483.4L1614.1 483.2L1615.1 483.2L1616.1 483.4L1617.1 483.7L1618.1 484.1L1619.1 484.1L1620.1 484.2L1621.1 483.9L1622.1 483.8L1623.1 483.7L1624.1 483.8L1625.1 484L1626.1 484.4L1627.1 484.2L1628.1 483.9L1629.1 483.9L1630.1 484L1631.1 484.2L1632.1 484.7L1633.1 484.2L1634.1 483.7L1635.1 483.4L1636.1 483.2L1637.1 483.2L1638.1 483.3L1639.1 483.6L1640.1 484.2L1641.1 484.8L1642.1 483.6L1643.1 482.8L1644.1 482.3L1645.1 482L1646.1 481.9L1647.1 482L1648.1 482.2L1649.1 482.7L1650.1 483.3L1651.1 484.3L1652.1 484.7L1653.1 484.8L1654.1 484.6L1655.1 484.5L1656.1 484.2L1657.1 484L1658.1 484L1659.1 483.7L1660.1 473.4L1661.1 460.5L1662.1 438.9L1663.1 406.5L1664.1 386.1L1665.1 383.8L1666.1 382.7L1667.1 382L1668.1 381.6L1669.1 381.3L1670.1 381.3L1671.1 381.3L1672.1 381.4L1673.1 381.7L1674.1 382.2L1675.1 382.9L1676.1 384.2L1677.1 387L1678.1 404.4L1679.1 429.2L1680.1 456L1681.1 473.1L1682.1 483.8L1683.1 483.9L1684.1 483.8L1685.1 483.6L1686.1 483.5L1687.1 483.6L1688.1 483.6L1689.1 483.1L1690.1 482.8L1691.1 482.7L1692.1 482.8L1693.1 483L1694.1 483.4L1695.1 483.7L1696.1 484.1L1697.1 483.8L1698.1 483.7L1699.1 482.8L1700.1 482.2L1701.1 481.8L1702.1 481.6L1703.1 481.6L1704.1 481.7L1705.1 482.1L1706.1 482.4L1707.1 482.5L1708.1 482.8L1709.1 483.4L1710.1 483.7L1711.1 483.3L1712.1 483L1713.1 483L1714.1 483.1L1715.1 483.3L1716.1 483.8L1717.1 484L1718.1 483.9L1719.1 483.6L1720.1 483L1721.1 481.9L1722.1 481.2L1723.1 480.8L1724.1 480.5L1725.1 480.5L1726.1 480.6L1727.1 480.9L1728.1 481.3L1729.1 482.1L1730.1 482.4L1731.1 482.6L1732.1 482.9L1733.1 483.6L1734.1 484.5L1735.1 486.3L1736.1 488.4L1737.1 490.7L1737.1 498.6L1736.1 501.4L1735.1 502.8L1734.1 503.6L1733.1 504.2L1732.1 505.1L1731.1 505.8L1730.1 506.2L1729.1 506.5L1728.1 506.5L1727.1 506.4L1726.1 506.1L1725.1 505.6L1724.1 505.4L1723.1 505.7L1722.1 505.9L1721.1 505.9L1720.1 505.7L1719.1 505.9L1718.1 505.9L1717.1 505.7L1716.1 505.7L1715.1 505.8L1714.1 505.7L1713.1 505.5L1712.1 505.6L1711.1 506L1710.1 506.1L1709.1 506.2L1708.1 506L1707.1 506.2L1706.1 506.2L1705.1 506L1704.1 505.7L1703.1 505.2L1702.1 504.8L1701.1 504.3L1700.1 504.8L1699.1 505.4L1698.1 505.7L1697.1 505.9L1696.1 505.8L1695.1 505.7L1694.1 505.4L1693.1 505L1692.1 505.4L1691.1 505.7L1690.1 505.8L1689.1 505.8L1688.1 505.5L1687.1 505.1L1686.1 504.4L1685.1 504.3L1684.1 504.5L1683.1 505L1682.1 505.3L1681.1 505.4L1680.1 505.7L1679.1 505.8L1678.1 505.7L1677.1 505.5L1676.1 505L1675.1 504.4L1674.1 503.3L1673.1 502.3L1672.1 501.2L1671.1 498.9L1670.1 498.1L1669.1 500.4L1668.1 501.7L1667.1 502.7L1666.1 503.4L1665.1 503.9L1664.1 504.3L1663.1 504.8L1662.1 505.1L1661.1 505.6L1660.1 506.3L1659.1 506.7L1658.1 506.9L1657.1 507L1656.1 506.9L1655.1 507.1L1654.1 507.3L1653.1 507.3L1652.1 507.1L1651.1 506.7L1650.1 506.1L1649.1 505.8L1648.1 506.2L1647.1 506.4L1646.1 506.5L1645.1 506.4L1644.1 506.2L1643.1 506.2L1642.1 506L1641.1 505.6L1640.1 505L1639.1 504.9L1638.1 505.3L1637.1 505.4L1636.1 505.5L1635.1 505.3L1634.1 505.2L1633.1 505.1L1632.1 504.9L1631.1 504.9L1630.1 505.1L1629.1 505.4L1628.1 505.5L1627.1 505.5L1626.1 505.6L1625.1 506.1L1624.1 506.3L1623.1 506.4L1622.1 506.3L1621.1 506.1L1620.1 506.5L1619.1 506.7L1618.1 506.7L1617.1 506.6L1616.1 506.2L1615.1 505.7L1614.1 505.6L1613.1 505.5L1612.1 505.3L1611.1 505.2L1610.1 505.2L1609.1 505.3L1608.1 505.4L1607.1 505.4L1606.1 505.7L1605.1 505.9L1604.1 505.9L1603.1 505.7L1602.1 505.6L1601.1 505.5L1600.1 505.2L1599.1 505.2L1598.1 505.6L1597.1 506.2L1596.1 506.6L1595.1 506.8L1594.1 506.8L1593.1 506.7L1592.1 506.4L1591.1 506.2L1590.1 505.8L1589.1 505.8L1588.1 506.1L1587.1 506.2L1586.1 506.1L1585.1 505.9L1584.1 505.5L1583.1 505.3L1582.1 505.2L1581.1 505.3L1580.1 505.3L1579.1 505.4L1578.1 505.8L1577.1 505.9L1576.1 505.9L1575.1 505.7L1574.1 505.6L1573.1 505.5L1572.1 505.6L1571.1 505.6L1570.1 505.4L1569.1 505.2L1568.1 505.1L1567.1 505.2L1566.1 505.1L1565.1 505L1564.1 505.4L1563.1 506.2L1562.1 506.7L1561.1 507L1560.1 507.1L1559.1 507L1558.1 506.8L1557.1 506.4L1556.1 505.7L1555.1 504.8L1554.1 504.9L1553.1 505.2L1552.1 505.4L1551.1 505.6L1550.1 506.1L1549.1 506.3L1548.1 506.4L1547.1 506.3L1546.1 506.3L1545.1 506.8L1544.1 507.1L1543.1 507.2L1542.1 507.1L1541.1 506.9L1540.1 506.4L1539.1 505.7L1538.1 505.6L1537.1 505.7L1536.1 505.6L1535.1 505.4L1534.1 505.4L1533.1 505.5L1532.1 505.6L1531.1 505.6L1530.1 505.6L1529.1 505.7L1528.1 506L1527.1 506.2L1526.1 506.1L1525.1 505.9L1524.1 505.9L1523.1 506.1L1522.1 506.1L1521.1 506L1520.1 506.2L1519.1 506.3L1518.1 506.2L1517.1 506.3L1516.1 506.4L1515.1 506.4L1514.1 506.1L1513.1 505.7L1512.1 505.5L1511.1 505.5L1510.1 505.3L1509.1 505.3L1508.1 505.3L1507.1 505.1L1506.1 505.2L1505.1 505.3L1504.1 505.2L1503.1 506.2L1502.1 507.3L1501.1 508L1500.1 508.4L1499.1 508.6L1498.1 508.7L1497.1 508.6L1496.1 508.3L1495.1 507.8L1494.1 507.1L1493.1 505.8L1492.1 505.7L1491.1 505.5L1490.1 505.3L1489.1 505.2L1488.1 505L1487.1 505.4L1486.1 505.6L1485.1 505.7L1484.1 505.8L1483.1 505.7L1482.1 506.6L1481.1 507.5L1480.1 508.1L1479.1 508.5L1478.1 508.7L1477.1 508.7L1476.1 508.6L1475.1 508.2L1474.1 507.7L1473.1 506.8L1472.1 505.8L1471.1 506.1L1470.1 506.2L1469.1 506.1L1468.1 506.3L1467.1 506.5L1466.1 506.5L1465.1 506.4L1464.1 506L1463.1 505.5L1462.1 504.6L1461.1 504.7L1460.1 504.7L1459.1 504.5L1458.1 504.5L1457.1 504.8L1456.1 504.9L1455.1 504.9L1454.1 505.2L1453.1 505.4L1452.1 505.4L1451.1 505.2L1450.1 505L1449.1 505.2L1448.1 505.9L1447.1 506.3L1446.1 506.6L1445.1 506.6L1444.1 506.5L1443.1 506.3L1442.1 506.1L1441.1 506.2L1440.1 506.1L1439.1 505.8L1438.1 505.3L1437.1 505.2L1436.1 505.1L1435.1 505.4L1434.1 505.6L1433.1 505.6L1432.1 506L1431.1 506.3L1430.1 506.5L1429.1 506.5L1428.1 506.4L1427.1 506.1L1426.1 505.5L1425.1 505L1424.1 505.1L1423.1 505.1L1422.1 504.9L1421.1 504.8L1420.1 505.2L1419.1 505.4L1418.1 505.4L1417.1 505.2L1416.1 504.9L1415.1 504.8L1414.1 504.9L1413.1 504.8L1412.1 504.9L1411.1 504.8L1410.1 505.1L1409.1 505.7L1408.1 506L1407.1 506.2L1406.1 506.1L1405.1 505.9L1404.1 505.6L1403.1 504.9L1402.1 504L1401.1 502.5L1400.1 500.2L1399.1 495.2L1398.1 482.2L1397.1 482.9L1396.1 495.5L1395.1 499.3L1394.1 502.5L1393.1 503.7L1392.1 504.5L1391.1 504.9L1390.1 505.2L1389.1 505.5L1388.1 505.9L1387.1 506.1L1386.1 506.1L1385.1 505.9L1384.1 505.6L1383.1 505.1L1382.1 504.7L1381.1 504.7L1380.1 504.6L1379.1 504.4L1378.1 504.5L1377.1 505.1L1376.1 505.7L1375.1 506L1374.1 506.1L1373.1 506.1L1372.1 505.9L1371.1 505.8L1370.1 505.9L1369.1 505.9L1368.1 505.6L1367.1 505.8L1366.1 505.7L1365.1 505.7L1364.1 506L1363.1 506.4L1362.1 506.6L1361.1 506.7L1360.1 506.6L1359.1 506.3L1358.1 505.8L1357.1 505.3L1356.1 505.5L1355.1 505.6L1354.1 505.6L1353.1 505.4L1352.1 505.6L1351.1 506.3L1350.1 506.7L1349.1 507L1348.1 507L1347.1 506.9L1346.1 506.7L1345.1 506.2L1344.1 505.4L1343.1 505.2L1342.1 505.3L1341.1 505.3L1340.1 505.1L1339.1 504.7L1338.1 505.1L1337.1 505.4L1336.1 505.6L1335.1 505.5L1334.1 505.8L1333.1 506.5L1332.1 507L1331.1 507.3L1330.1 507.4L1329.1 507.4L1328.1 507.1L1327.1 506.8L1326.1 507.4L1325.1 507.9L1324.1 508.1L1323.1 508.2L1322.1 508.1L1321.1 507.8L1320.1 507.3L1319.1 506.5L1318.1 505.3L1317.1 503.1L1316.1 502.3L1315.1 501.1L1314.1 497.6L1313.1 498.9L1312.1 501.2L1311.1 502.2L1310.1 502.9L1309.1 503.5L1308.1 504.3L1307.1 504.8L1306.1 505.1L1305.1 505.2L1304.1 505.2L1303.1 505.4L1302.1 505.5L1301.1 505.5L1300.1 505.4L1299.1 505.2L1298.1 504.9L1297.1 505L1296.1 505.6L1295.1 506L1294.1 506.2L1293.1 506.5L1292.1 507L1291.1 507.3L1290.1 507.4L1289.1 507.4L1288.1 507.1L1287.1 506.7L1286.1 506L1285.1 505.3L1284.1 505.6L1283.1 505.7L1282.1 505.6L1281.1 505.4L1280.1 505L1279.1 505.1L1278.1 505.2L1277.1 506L1276.1 506.5L1275.1 506.8L1274.1 506.9L1273.1 506.8L1272.1 506.6L1271.1 506.1L1270.1 505.5L1269.1 505.4L1268.1 505.9L1267.1 506.2L1266.1 506.3L1265.1 506.2L1264.1 506L1263.1 505.5L1262.1 505.2L1261.1 505L1260.1 505.3L1259.1 505.7L1258.1 505.9L1257.1 505.9L1256.1 505.7L1255.1 505.4L1254.1 505.1L1253.1 505L1252.1 505.1L1251.1 505.2L1250.1 505.4L1249.1 505.5L1248.1 505.4L1247.1 505.8L1246.1 506.1L1245.1 506.3L1244.1 506.4L1243.1 506.7L1242.1 507.2L1241.1 507.6L1240.1 507.7L1239.1 507.7L1238.1 507.5L1237.1 507.1L1236.1 506.5L1235.1 505.6L1234.1 505.2L1233.1 505.1L1232.1 505.4L1231.1 505.8L1230.1 506.3L1229.1 506.5L1228.1 506.6L1227.1 506.6L1226.1 507L1225.1 507.2L1224.1 507.2L1223.1 507.1L1222.1 506.7L1221.1 506.2L1220.1 505.7L1219.1 506.3L1218.1 506.7L1217.1 506.9L1216.1 506.9L1215.1 506.7L1214.1 506.4L1213.1 505.9L1212.1 506.1L1211.1 506.4L1210.1 506.6L1209.1 506.7L1208.1 506.5L1207.1 506.2L1206.1 506L1205.1 506L1204.1 505.9L1203.1 505.6L1202.1 505.2L1201.1 504.8L1200.1 504.8L1199.1 504.6L1198.1 504.8L1197.1 504.8L1196.1 504.7L1195.1 504.6L1194.1 505.1L1193.1 505.5L1192.1 505.7L1191.1 505.9L1190.1 506.2L1189.1 506.4L1188.1 506.4L1187.1 506.2L1186.1 505.8L1185.1 505.4L1184.1 505.9L1183.1 506.2L1182.1 506.3L1181.1 506.2L1180.1 506L1179.1 505.5L1178.1 505.6L1177.1 505.6L1176.1 505.8L1175.1 505.9L1174.1 506.1L1173.1 506.2L1172.1 506.8L1171.1 507.1L1170.1 507.2L1169.1 507.4L1168.1 507.3L1167.1 507.1L1166.1 506.8L1165.1 506.2L1164.1 506.1L1163.1 506.2L1162.1 506.2L1161.1 506L1160.1 505.6L1159.1 505.4L1158.1 506L1157.1 506.3L1156.1 506.5L1155.1 506.5L1154.1 506.3L1153.1 505.9L1152.1 505.5L1151.1 505.4L1150.1 505L1149.1 504.8L1148.1 504.6L1147.1 504.7L1146.1 505.7L1145.1 506.3L1144.1 506.7L1143.1 506.9L1142.1 506.9L1141.1 506.7L1140.1 506.4L1139.1 505.9L1138.1 505L1137.1 505.1L1136.1 505.3L1135.1 505.5L1134.1 505.5L1133.1 505.4L1132.1 505.4L1131.1 505.4L1130.1 505.6L1129.1 505.6L1128.1 505.4L1127.1 505.4L1126.1 506L1125.1 506.4L1124.1 506.6L1123.1 506.6L1122.1 506.4L1121.1 506.3L1120.1 506.8L1119.1 507L1118.1 507.1L1117.1 507L1116.1 506.7L1115.1 507L1114.1 507.1L1113.1 507.1L1112.1 506.9L1111.1 506.5L1110.1 506.3L1109.1 506.1L1108.1 505.7L1107.1 505.5L1106.1 505L1105.1 504.8L1104.1 504.8L1103.1 505.5L1102.1 506.1L1101.1 506.5L1100.1 506.7L1099.1 506.7L1098.1 506.6L1097.1 506.2L1096.1 505.7L1095.1 504.8L1094.1 505.3L1093.1 506L1092.1 506.4L1091.1 506.6L1090.1 506.7L1089.1 506.6L1088.1 506.9L1087.1 506.9L1086.1 506.8L1085.1 506.5L1084.1 506.6L1083.1 506.6L1082.1 506.6L1081.1 506.7L1080.1 506.7L1079.1 506.5L1078.1 506.1L1077.1 505.5L1076.1 505.5L1075.1 505.5L1074.1 505.4L1073.1 505.8L1072.1 506.1L1071.1 506.1L1070.1 506L1069.1 505.7L1068.1 505.5L1067.1 505.5L1066.1 505.7L1065.1 506L1064.1 506.2L1063.1 506.4L1062.1 507.1L1061.1 507.4L1060.1 507.6L1059.1 507.7L1058.1 507.5L1057.1 507.2L1056.1 506.6L1055.1 505.8L1054.1 505.3L1053.1 505.6L1052.1 505.7L1051.1 505.7L1050.1 505.9L1049.1 505.9L1048.1 505.9L1047.1 505.9L1046.1 506L1045.1 505.8L1044.1 505.5L1043.1 504.9L1042.1 504.1L1041.1 502.6L1040.1 498.5L1039.1 495.1L1038.1 494.9L1037.1 499.5L1036.1 501.3L1035.1 502.8L1034.1 503.8L1033.1 504.5L1032.1 505L1031.1 505.2L1030.1 505.3L1029.1 505.6L1028.1 506L1027.1 506.3L1026.1 506.3L1025.1 506.2L1024.1 505.9L1023.1 505.5L1022.1 505.4L1021.1 505.7L1020.1 505.8L1019.1 506L1018.1 506L1017.1 505.8L1016.1 505.9L1015.1 506.1L1014.1 506.2L1013.1 506L1012.1 505.8L1011.1 506.5L1010.1 507L1009.1 507.2L1008.1 507.2L1007.1 507.1L1006.1 506.9L1005.1 506.4L1004.1 506.1L1003.1 506L1002.1 506.1L1001.1 505.9L1000.1 505.8L999.1 505.5L998.1 505.4L997.1 505.5L996.1 505.4L995.1 505.2L994.1 504.7L993.1 504.7L992.1 504.6L991.1 504.3L990.1 503.8L989.1 503.1L988.1 502.2L987.1 500.8Z"/>
<rect x="993.3" y="74.6" width="738.5" height="455.4" fill="none" stroke="#7a7a7a" stroke-width="1.9"/><path d="M1020.5 530v-4M1020.5 74.6v4M1049 530v-4M1049 74.6v4M1077.4 530v-4M1077.4 74.6v4M1105.8 530v-4M1105.8 74.6v4M1134.2 530v-7M1134.2 74.6v7M1162.7 530v-4M1162.7 74.6v4M1191.1 530v-4M1191.1 74.6v4M1219.5 530v-4M1219.5 74.6v4M1248 530v-4M1248 74.6v4M1276.4 530v-7M1276.4 74.6v7M1304.8 530v-4M1304.8 74.6v4M1333.3 530v-4M1333.3 74.6v4M1361.7 530v-4M1361.7 74.6v4M1390.1 530v-4M1390.1 74.6v4M1418.5 530v-7M1418.5 74.6v7M1447 530v-4M1447 74.6v4M1475.4 530v-4M1475.4 74.6v4M1503.8 530v-4M1503.8 74.6v4M1532.3 530v-4M1532.3 74.6v4M1560.7 530v-7M1560.7 74.6v7M1589.1 530v-4M1589.1 74.6v4M1617.6 530v-4M1617.6 74.6v4M1646 530v-4M1646 74.6v4M1674.4 530v-4M1674.4 74.6v4M1702.8 530v-7M1702.8 74.6v7M993.3 507.2h4M1731.8 507.2h-4M993.3 484.4h4M1731.8 484.4h-4M993.3 461.6h4M1731.8 461.6h-4M993.3 438.8h4M1731.8 438.8h-4M993.3 416h7M1731.8 416h-7M993.3 393.2h4M1731.8 393.2h-4M993.3 370.4h4M1731.8 370.4h-4M993.3 347.6h4M1731.8 347.6h-4M993.3 324.8h4M1731.8 324.8h-4M993.3 302h7M1731.8 302h-7M993.3 279.2h4M1731.8 279.2h-4M993.3 256.4h4M1731.8 256.4h-4M993.3 233.6h4M1731.8 233.6h-4M993.3 210.8h4M1731.8 210.8h-4M993.3 188h7M1731.8 188h-7M993.3 165.2h4M1731.8 165.2h-4M993.3 142.4h4M1731.8 142.4h-4M993.3 119.6h4M1731.8 119.6h-4M993.3 96.8h4M1731.8 96.8h-4" stroke="#7a7a7a" stroke-width="1.6" fill="none"/>
<path d="M1027.4 162.5L1027.4 531" stroke="#ff0000" stroke-width="3.5"/>
<path d="M1051.5 161L1051.5 531" stroke="#ff0000" stroke-width="3.5"/>
<path d="M1385.2 158L1385.2 531" stroke="#ff0000" stroke-width="3.5"/>
<path d="M1405.4 157L1405.4 531" stroke="#ff0000" stroke-width="3.5"/>
<path d="M1000.4 195.9H1020.1" stroke="#000" stroke-width="2.4" fill="none"/><path d="M994 195.9l9.2 -5.1v10.2z" fill="#000"/><path d="M1026.5 195.9l-9.2 -5.1v10.2z" fill="#000"/>
<path d="M1034.9 303.8H1377.1" stroke="#000" stroke-width="2.4" fill="none"/><path d="M1028.5 303.8l9.2 -5.1v10.2z" fill="#000"/><path d="M1383.5 303.8l-9.2 -5.1v10.2z" fill="#000"/>
<g fill="#666666"><text x="992.6" y="558.4" text-anchor="middle" font-size="24.3" textLength="13.3" lengthAdjust="spacingAndGlyphs">0</text><text x="1134.8" y="558.4" text-anchor="middle" font-size="24.3" textLength="53.4" lengthAdjust="spacingAndGlyphs">5000</text><text x="1276.9" y="558.4" text-anchor="middle" font-size="24.3" textLength="69.5" lengthAdjust="spacingAndGlyphs">10<tspan dx="2.4">000</tspan></text><text x="1419" y="558.4" text-anchor="middle" font-size="24.3" textLength="69.5" lengthAdjust="spacingAndGlyphs">15<tspan dx="2.4">000</tspan></text><text x="1561.2" y="558.4" text-anchor="middle" font-size="24.3" textLength="69.5" lengthAdjust="spacingAndGlyphs">20<tspan dx="2.4">000</tspan></text><text x="1703.3" y="558.4" text-anchor="middle" font-size="24.3" textLength="69.5" lengthAdjust="spacingAndGlyphs">25<tspan dx="2.4">000</tspan></text><text x="987.5" y="539.5" text-anchor="end" font-size="24.3" textLength="13.3" lengthAdjust="spacingAndGlyphs">0</text><text x="987.5" y="425.5" text-anchor="end" font-size="24.3" textLength="53.4" lengthAdjust="spacingAndGlyphs">1000</text><text x="987.5" y="311.5" text-anchor="end" font-size="24.3" textLength="53.4" lengthAdjust="spacingAndGlyphs">2000</text><text x="987.5" y="197.5" text-anchor="end" font-size="24.3" textLength="53.4" lengthAdjust="spacingAndGlyphs">3000</text><text x="987.5" y="83.5" text-anchor="end" font-size="24.3" textLength="53.4" lengthAdjust="spacingAndGlyphs">4000</text></g>
<text font-size="32.2" fill="#000" stroke="#000" stroke-width="0.3" x="997.6" y="122" textLength="19.9" lengthAdjust="spacingAndGlyphs">Δ</text><text font-size="31" fill="#000" stroke="#000" stroke-width="0.35" x="1018.6" y="122" textLength="9.6" lengthAdjust="spacingAndGlyphs">t</text><text font-size="20.5" fill="#000" stroke="#000" stroke-width="0.2" x="1030.2" y="130">2</text>
<text x="1217.5" y="285.3" font-size="32.2" text-anchor="middle" fill="#000" stroke="#000" stroke-width="0.35" textLength="18.6" lengthAdjust="spacingAndGlyphs">T</text>
<text fill="#000" font-size="45" x="883.4" y="35.2" textLength="13.4" lengthAdjust="spacingAndGlyphs">(</text><text fill="#000" font-size="45" x="899.6" y="35.2">b</text><text fill="#000" font-size="45" x="925.8" y="35.2" textLength="13.4" lengthAdjust="spacingAndGlyphs">)</text>
<text transform="translate(920.3 302.4) rotate(-90)" text-anchor="middle" font-size="26.6" fill="#666666" textLength="79.3" lengthAdjust="spacingAndGlyphs">Counts</text>
<text x="1361" y="595.5" text-anchor="middle" font-size="25.8" fill="#666666" textLength="200" lengthAdjust="spacingAndGlyphs">Delayed time [ps]</text>
</g>
<g id="pc">
<clipPath id="cc"><rect x="102.3" y="640" width="738.4" height="470"/></clipPath>
<path clip-path="url(#cc)" fill="#0000ff" d="M96.7 915.9L97.7 911.8L98.7 910.3L99.7 909.3L100.7 908.2L101.7 907.5L102.7 907.1L103.7 906.8L104.7 906.8L105.7 906.9L106.7 907.2L107.7 907.6L108.7 907.2L109.7 906.2L110.7 905.5L111.7 905L112.7 904.8L113.7 904.7L114.7 904.9L115.7 905.1L116.7 905.6L117.7 906L118.7 905.4L119.7 905L120.7 904.8L121.7 904.8L122.7 904.9L123.7 904.7L124.7 904.5L125.7 904.5L126.7 904.7L127.7 905L128.7 905.5L129.7 905.7L130.7 905.4L131.7 905.1L132.7 905L133.7 904.4L134.7 903.6L135.7 903.1L136.7 902.9L137.7 902.8L138.7 902.8L139.7 903L140.7 902.8L141.7 902.7L142.7 902.2L143.7 901.9L144.7 901.7L145.7 901.6L146.7 901.8L147.7 902.1L148.7 902.7L149.7 903.5L150.7 905L151.7 906.5L152.7 906.6L153.7 905.8L154.7 904.8L155.7 904.2L156.7 903.8L157.7 903.6L158.7 903.6L159.7 903.8L160.7 904.1L161.7 901.9L162.7 858.9L163.7 822.5L164.7 771.6L165.7 760.6L166.7 759.4L167.7 758.6L168.7 758.1L169.7 757.8L170.7 757.7L171.7 757.7L172.7 757.7L173.7 757.8L174.7 757.9L175.7 758.2L176.7 758.8L177.7 759.6L178.7 761.1L179.7 792.8L180.7 832.8L181.7 888.9L182.7 901.6L183.7 904.1L184.7 902.4L185.7 901.4L186.7 900.8L187.7 900.4L188.7 900.2L189.7 900.2L190.7 900.4L191.7 900.7L192.7 901.2L193.7 902.1L194.7 903.5L195.7 905.2L196.7 905.7L197.7 905.7L198.7 903.4L199.7 902.2L200.7 901.4L201.7 900.9L202.7 900.6L203.7 900.5L204.7 900.6L205.7 900.8L206.7 901.2L207.7 901.9L208.7 903L209.7 905.3L210.7 904.8L211.7 904.6L212.7 904.5L213.7 904.6L214.7 904.9L215.7 905L216.7 904.7L217.7 904.5L218.7 904.6L219.7 904.7L220.7 905.1L221.7 905.7L222.7 906.1L223.7 906.6L224.7 907.3L225.7 906.8L226.7 906.4L227.7 906.2L228.7 897.5L229.7 896.1L230.7 895.3L231.7 894.7L232.7 894.4L233.7 894.2L234.7 894.2L235.7 894.4L236.7 894.8L237.7 895.4L238.7 896.4L239.7 898.1L240.7 902.1L241.7 902.3L242.7 902.6L243.7 903.1L244.7 904L245.7 903L246.7 901.7L247.7 901L248.7 900.5L249.7 900.2L250.7 900.1L251.7 900.1L252.7 900.4L253.7 900.8L254.7 901.5L255.7 901.6L256.7 901.2L257.7 901L258.7 901L259.7 901.1L260.7 901.5L261.7 902L262.7 902.9L263.7 904.3L264.7 906L265.7 905.7L266.7 905.1L267.7 904.8L268.7 904.6L269.7 904.7L270.7 904.9L271.7 905.2L272.7 904.8L273.7 904.1L274.7 903.6L275.7 903.4L276.7 903.3L277.7 903.4L278.7 903.7L279.7 902.9L280.7 902.3L281.7 901.9L282.7 901.7L283.7 901.7L284.7 901.8L285.7 902.1L286.7 899.2L287.7 897.9L288.7 897.2L289.7 896.7L290.7 896.4L291.7 896.3L292.7 896.3L293.7 896.6L294.7 897L295.7 897.7L296.7 898.8L297.7 901.1L298.7 904.2L299.7 904.1L300.7 904.2L301.7 904.5L302.7 905L303.7 905.7L304.7 907L305.7 907.3L306.7 906.6L307.7 906.1L308.7 905L309.7 904L310.7 903.4L311.7 903L312.7 902.8L313.7 902.8L314.7 902.9L315.7 903.3L316.7 903.8L317.7 904.7L318.7 905.3L319.7 904.5L320.7 904.1L321.7 903.8L322.7 903.7L323.7 903.7L324.7 904L325.7 904.4L326.7 905.1L327.7 903.2L328.7 901.8L329.7 900.9L330.7 900.4L331.7 900L332.7 899.9L333.7 899.9L334.7 900.1L335.7 900.5L336.7 901.1L337.7 902L338.7 903.8L339.7 904.4L340.7 903.2L341.7 902.2L342.7 901.6L343.7 901.2L344.7 901L345.7 900.4L346.7 899.4L347.7 898.8L348.7 898.5L349.7 898.3L350.7 898.2L351.7 898.4L352.7 898.7L353.7 899.3L354.7 900.1L355.7 901.6L356.7 902.6L357.7 902.3L358.7 902.1L359.7 902.1L360.7 902.2L361.7 902.5L362.7 902.8L363.7 902.3L364.7 902.1L365.7 902L366.7 902.1L367.7 902.4L368.7 902.9L369.7 903.7L370.7 904.7L371.7 905.2L372.7 905.2L373.7 905.1L374.7 905.1L375.7 905.2L376.7 905.5L377.7 900.1L378.7 898.8L379.7 898.1L380.7 897.6L381.7 897.3L382.7 897.2L383.7 897.2L384.7 897.5L385.7 897.9L386.7 898.6L387.7 899.7L388.7 902L389.7 904.1L390.7 904.1L391.7 901.2L392.7 899.4L393.7 898.5L394.7 897.5L395.7 896.6L396.7 896L397.7 895.6L398.7 895.4L399.7 895.4L400.7 895.5L401.7 895.8L402.7 896.4L403.7 897.3L404.7 898.7L405.7 904.3L406.7 904.5L407.7 905L408.7 905.6L409.7 905.8L410.7 905.3L411.7 904.9L412.7 904.8L413.7 904.7L414.7 903.8L415.7 903.2L416.7 902.8L417.7 902.6L418.7 902.5L419.7 902.4L420.7 902.5L421.7 902.8L422.7 903.3L423.7 904.1L424.7 905.3L425.7 904.3L426.7 903.7L427.7 903.3L428.7 903.1L429.7 903.1L430.7 903.3L431.7 903.6L432.7 904.1L433.7 904.5L434.7 905.1L435.7 905.3L436.7 904.8L437.7 904.5L438.7 903.5L439.7 902.7L440.7 902.2L441.7 902L442.7 901.9L443.7 901.9L444.7 902.2L445.7 902.6L446.7 903.3L447.7 904.4L448.7 904.5L449.7 904.6L450.7 904.9L451.7 905.5L452.7 904L453.7 902.9L454.7 902.2L455.7 901.8L456.7 901.6L457.7 901.5L458.7 901.6L459.7 901.9L460.7 902.4L461.7 903.1L462.7 904.4L463.7 904.4L464.7 903.9L465.7 903.5L466.7 903.3L467.7 903.2L468.7 903.3L469.7 903.4L470.7 903.4L471.7 903.2L472.7 903L473.7 903.1L474.7 903.3L475.7 903.1L476.7 902.6L477.7 902.3L478.7 902.2L479.7 902.2L480.7 902.5L481.7 902.9L482.7 903.6L483.7 904.3L484.7 904.2L485.7 904.2L486.7 904.4L487.7 904.7L488.7 905.4L489.7 906.3L490.7 906.1L491.7 906L492.7 905L493.7 904.1L494.7 903.4L495.7 903.1L496.7 902.9L497.7 902.8L498.7 903L499.7 903.3L500.7 903.9L501.7 904.7L502.7 904.9L503.7 904.8L504.7 904.9L505.7 905.2L506.7 905L507.7 905L508.7 905.1L509.7 905.5L510.7 906L511.7 905.6L512.7 905.3L513.7 905.2L514.7 905.3L515.7 905.5L516.7 906L517.7 906.3L518.7 905L519.7 886.9L520.7 832.2L521.7 779.6L522.7 762.5L523.7 760.2L524.7 759.2L525.7 758.5L526.7 758L527.7 757.8L528.7 757.7L529.7 757.7L530.7 757.8L531.7 758L532.7 758.3L533.7 759L534.7 759.9L535.7 761.7L536.7 779.5L537.7 832.4L538.7 878.4L539.7 901.9L540.7 901.9L541.7 901.7L542.7 901.6L543.7 901.5L544.7 901.4L545.7 901.4L546.7 900.8L547.7 900.4L548.7 900.3L549.7 899.8L550.7 899.5L551.7 899.3L552.7 899.4L553.7 899.6L554.7 899.9L555.7 900.6L556.7 901.5L557.7 903.2L558.7 904.5L559.7 904.8L560.7 905.3L561.7 904.5L562.7 903.8L563.7 903.4L564.7 903.2L565.7 903.1L566.7 903.2L567.7 903.5L568.7 904L569.7 903.3L570.7 901.6L571.7 900.6L572.7 900L573.7 899.6L574.7 899.4L575.7 899.4L576.7 899.5L577.7 899.9L578.7 900.4L579.7 901.3L580.7 902.7L581.7 906.5L582.7 906.8L583.7 907.2L584.7 905.8L585.7 904.8L586.7 904.2L587.7 903.9L588.7 903.7L589.7 903.6L590.7 903.8L591.7 904.1L592.7 904.7L593.7 903.9L594.7 902.7L595.7 901.9L596.7 901.4L597.7 901.1L598.7 901L599.7 901.1L600.7 901.3L601.7 901.8L602.7 902.5L603.7 903.5L604.7 905.3L605.7 904.8L606.7 904.4L607.7 904.3L608.7 904.3L609.7 904.5L610.7 903.9L611.7 903.3L612.7 903L613.7 902.9L614.7 902.9L615.7 903.1L616.7 903.5L617.7 904.1L618.7 905L619.7 905.5L620.7 905.8L621.7 906.2L622.7 907L623.7 906.1L624.7 904.9L625.7 904.1L626.7 903.6L627.7 903.3L628.7 903.2L629.7 903.3L630.7 903.5L631.7 903.8L632.7 904.2L633.7 905L634.7 903.3L635.7 902.2L636.7 901.5L637.7 901.1L638.7 900.8L639.7 900.8L640.7 900.9L641.7 901.2L642.7 901.6L643.7 902.4L644.7 902.1L645.7 901.9L646.7 901.5L647.7 901.1L648.7 901L649.7 901L650.7 901.2L651.7 901.6L652.7 902.2L653.7 903.2L654.7 903.9L655.7 903L656.7 902.4L657.7 902L658.7 901.8L659.7 901.8L660.7 901.9L661.7 902.3L662.7 902.8L663.7 903.7L664.7 904.8L665.7 905L666.7 905.4L667.7 905.7L668.7 905.6L669.7 905.6L670.7 905.8L671.7 904.7L672.7 903.6L673.7 902.9L674.7 902.5L675.7 902.2L676.7 902.2L677.7 902.3L678.7 902.4L679.7 901.7L680.7 901.2L681.7 900.9L682.7 900.8L683.7 900.9L684.7 901.1L685.7 901.5L686.7 902.2L687.7 903L688.7 902.6L689.7 902.3L690.7 902.3L691.7 902.4L692.7 902.7L693.7 903.1L694.7 903.9L695.7 903.4L696.7 902.5L697.7 902L698.7 901.7L699.7 901.5L700.7 901.5L701.7 901.7L702.7 902.1L703.7 902.7L704.7 903.7L705.7 905L706.7 905.9L707.7 905.3L708.7 904.9L709.7 901.5L710.7 899.7L711.7 898.8L712.7 898.2L713.7 897.8L714.7 897.6L715.7 897.6L716.7 897.7L717.7 898.1L718.7 898.6L719.7 899.5L720.7 900.9L721.7 905.6L722.7 905.9L723.7 906.4L724.7 907.1L725.7 907.6L726.7 906.5L727.7 905.8L728.7 905.4L729.7 905.1L730.7 905.1L731.7 905.2L732.7 901.8L733.7 900.6L734.7 899.8L735.7 899.3L736.7 899.1L737.7 899L738.7 899L739.7 899.3L740.7 899.7L741.7 900.4L742.7 901.5L743.7 901.1L744.7 900.6L745.7 900.4L746.7 900.3L747.7 900.4L748.7 900.7L749.7 901.2L750.7 902L751.7 903.2L752.7 903.3L753.7 903.6L754.7 903.6L755.7 903L756.7 902.7L757.7 902.6L758.7 902.6L759.7 902.8L760.7 903.2L761.7 903.8L762.7 901.1L763.7 899.6L764.7 898.8L765.7 898.2L766.7 897.9L767.7 897.8L768.7 897.8L769.7 898L770.7 898.4L771.7 899L772.7 899.9L773.7 901.7L774.7 902.9L775.7 903.3L776.7 903.7L777.7 903.6L778.7 903.6L779.7 903.9L780.7 904.3L781.7 905L782.7 904.6L783.7 903.6L784.7 903L785.7 902.7L786.7 902.5L787.7 902.4L788.7 902.6L789.7 902.9L790.7 901.8L791.7 901L792.7 900.4L793.7 900.1L794.7 899.9L795.7 900L796.7 900.2L797.7 900.5L798.7 901.2L799.7 902.1L800.7 903.9L801.7 906.3L802.7 906.2L803.7 905.4L804.7 904.9L805.7 904.6L806.7 904.4L807.7 904.2L808.7 904.2L809.7 904.3L810.7 904.7L811.7 905.2L812.7 905.8L813.7 905.5L814.7 905.3L815.7 905.3L816.7 905.4L817.7 905.3L818.7 904.2L819.7 903.1L820.7 902.4L821.7 902L822.7 901.7L823.7 901.7L824.7 901.8L825.7 902L826.7 902.5L827.7 903.3L828.7 904.2L829.7 904.4L830.7 904.8L831.7 905.4L832.7 906.3L833.7 907.9L834.7 908.5L835.7 908.5L836.7 908.4L837.7 908.3L838.7 908.3L839.7 908.5L840.7 908.9L841.7 909.5L842.7 910.5L843.7 912.2L844.7 914.2L845.7 916L845.7 951.5L844.7 952.9L843.7 953.8L842.7 954.3L841.7 954.7L840.7 954.8L839.7 954.8L838.7 954.6L837.7 954.2L836.7 953.6L835.7 959.6L834.7 961.3L833.7 962.3L832.7 962.9L831.7 963.3L830.7 963.5L829.7 963.5L828.7 963.4L827.7 963L826.7 962.5L825.7 961.6L824.7 960.2L823.7 953.2L822.7 953L821.7 952.6L820.7 951.9L819.7 951.1L818.7 951.4L817.7 951.6L816.7 951.6L815.7 951.4L814.7 952.7L813.7 953.5L812.7 954.1L811.7 954.4L810.7 954.6L809.7 954.5L808.7 954.3L807.7 954L806.7 953.4L805.7 952.4L804.7 950.7L803.7 949L802.7 948.9L801.7 949.2L800.7 949.3L799.7 949.2L798.7 949L797.7 948.9L796.7 951.8L795.7 954.1L794.7 955.1L793.7 955.8L792.7 956.3L791.7 956.5L790.7 956.6L789.7 956.5L788.7 956.2L787.7 955.7L786.7 954.9L785.7 954L784.7 952.8L783.7 951.4L782.7 951.2L781.7 951.4L780.7 952.3L779.7 953.1L778.7 953.7L777.7 954L776.7 954.1L775.7 954.1L774.7 954.9L773.7 955.8L772.7 956.3L771.7 956.7L770.7 956.8L769.7 956.8L768.7 956.6L767.7 956.2L766.7 955.6L765.7 954.7L764.7 952.9L763.7 950.7L762.7 951.6L761.7 952.9L760.7 954.6L759.7 955.7L758.7 956.3L757.7 956.8L756.7 957L755.7 957.1L754.7 957L753.7 956.7L752.7 956.2L751.7 955.4L750.7 955L749.7 955.4L748.7 955.7L747.7 955.7L746.7 955.6L745.7 955.3L744.7 954.8L743.7 954.1L742.7 953.1L741.7 954L740.7 955.1L739.7 955.8L738.7 956.2L737.7 956.5L736.7 956.5L735.7 956.4L734.7 956.2L733.7 955.7L732.7 954.9L731.7 953.7L730.7 950.6L729.7 950.9L728.7 951L727.7 951.1L726.7 951.3L725.7 951.3L724.7 951.2L723.7 950.8L722.7 950.8L721.7 951.4L720.7 951.8L719.7 952L718.7 952L717.7 952L716.7 952.2L715.7 952.3L714.7 952.8L713.7 953.2L712.7 953.5L711.7 953.9L710.7 954.1L709.7 954.2L708.7 954.9L707.7 955.7L706.7 956.2L705.7 956.4L704.7 956.5L703.7 956.5L702.7 956.2L701.7 955.8L700.7 955.1L699.7 954.3L698.7 954.5L697.7 954.5L696.7 954.4L695.7 954.1L694.7 953.7L693.7 954.5L692.7 955L691.7 955.3L690.7 955.4L689.7 955.3L688.7 955.1L687.7 954.6L686.7 953.9L685.7 953.2L684.7 952.6L683.7 953L682.7 953.3L681.7 953.4L680.7 953.4L679.7 953.1L678.7 952.7L677.7 952L676.7 950.9L675.7 950.2L674.7 951.6L673.7 952.5L672.7 953L671.7 953.3L670.7 953.5L669.7 953.5L668.7 953.8L667.7 953.9L666.7 953.9L665.7 953.7L664.7 953.3L663.7 952.7L662.7 952L661.7 951.9L660.7 952.1L659.7 952.1L658.7 952L657.7 951.6L656.7 951.1L655.7 950.3L654.7 950.3L653.7 951L652.7 951.5L651.7 951.8L650.7 951.9L649.7 951.8L648.7 951.6L647.7 952.1L646.7 953.5L645.7 954.3L644.7 954.9L643.7 955.2L642.7 955.4L641.7 955.3L640.7 955.1L639.7 954.8L638.7 954.2L637.7 953.2L636.7 952.8L635.7 952.8L634.7 953.8L633.7 955.1L632.7 955.8L631.7 956.3L630.7 956.6L629.7 956.7L628.7 956.6L627.7 956.4L626.7 956L625.7 955.3L624.7 954.2L623.7 951.9L622.7 952.6L621.7 953.3L620.7 953.7L619.7 954L618.7 954L617.7 953.9L616.7 953.6L615.7 953.2L614.7 952.6L613.7 952.4L612.7 952L611.7 951.4L610.7 950.4L609.7 950.1L608.7 951L607.7 951.7L606.7 952L605.7 952.2L604.7 954.2L603.7 955.2L602.7 955.9L601.7 956.4L600.7 956.6L599.7 956.7L598.7 956.6L597.7 956.3L596.7 955.8L595.7 955L594.7 954.9L593.7 955.3L592.7 955.5L591.7 955.6L590.7 955.5L589.7 955.2L588.7 954.7L587.7 954L586.7 952.7L585.7 952.1L584.7 952.1L583.7 951.8L582.7 951.4L581.7 952.2L580.7 953.1L579.7 953.6L578.7 954L577.7 954.1L576.7 954.1L575.7 953.9L574.7 953.5L573.7 952.9L572.7 951.9L571.7 950.2L570.7 949.2L569.7 950L568.7 950.8L567.7 951.4L566.7 951.7L565.7 951.8L564.7 951.8L563.7 951.6L562.7 951.3L561.7 950.6L560.7 951.8L559.7 953.5L558.7 954.5L557.7 955.1L556.7 955.5L555.7 955.7L554.7 955.7L553.7 955.5L552.7 955.2L551.7 954.7L550.7 953.8L549.7 953.9L548.7 954.2L547.7 954.4L546.7 954.5L545.7 954.3L544.7 954L543.7 953.4L542.7 952.6L541.7 952L540.7 952.2L539.7 952.1L538.7 951.9L537.7 951.6L536.7 950.9L535.7 950L534.7 949.9L533.7 949.6L532.7 949.1L531.7 948.3L530.7 947.1L529.7 941.3L528.7 943L527.7 944.2L526.7 945L525.7 949.9L524.7 952.2L523.7 953.3L522.7 954L521.7 954.4L520.7 954.7L519.7 954.7L518.7 954.6L517.7 954.7L516.7 955.2L515.7 955.5L514.7 955.6L513.7 955.6L512.7 955.3L511.7 955.2L510.7 954.9L509.7 954.5L508.7 953.7L507.7 952.5L506.7 951.9L505.7 952.4L504.7 952.7L503.7 952.8L502.7 952.7L501.7 952.5L500.7 952.8L499.7 955.1L498.7 956.5L497.7 957.4L496.7 957.9L495.7 958.2L494.7 958.4L493.7 958.4L492.7 958.2L491.7 957.8L490.7 957.2L489.7 956.2L488.7 954.5L487.7 954.9L486.7 955.8L485.7 956.3L484.7 956.6L483.7 956.8L482.7 956.8L481.7 956.6L480.7 956.2L479.7 956.1L478.7 955.9L477.7 955.6L476.7 954.9L475.7 954L474.7 953.6L473.7 953.1L472.7 952.4L471.7 951.1L470.7 950.9L469.7 952L468.7 952.7L467.7 953.1L466.7 953.9L465.7 954.4L464.7 954.8L463.7 954.9L462.7 954.9L461.7 954.7L460.7 954.3L459.7 953.7L458.7 952.7L457.7 951.7L456.7 951.9L455.7 952L454.7 951.9L453.7 951.6L452.7 952.4L451.7 953.4L450.7 954L449.7 954.4L448.7 954.6L447.7 954.6L446.7 954.4L445.7 954.1L444.7 953.6L443.7 952.7L442.7 951.3L441.7 950.7L440.7 951.9L439.7 952.7L438.7 953.1L437.7 953.4L436.7 953.5L435.7 953.5L434.7 953.2L433.7 952.8L432.7 952.1L431.7 951L430.7 950.4L429.7 949.7L428.7 949.8L427.7 950L426.7 950.1L425.7 950.8L424.7 952.5L423.7 953.5L422.7 954.1L421.7 954.5L420.7 954.6L419.7 954.7L418.7 954.5L417.7 954.2L416.7 953.6L415.7 952.8L414.7 953.5L413.7 955L412.7 955.8L411.7 956.4L410.7 956.7L409.7 956.8L408.7 956.8L407.7 956.6L406.7 956.2L405.7 955.6L404.7 954.7L403.7 953.5L402.7 953.8L401.7 953.9L400.7 953.8L399.7 953.6L398.7 953.2L397.7 953.3L396.7 953.5L395.7 953.4L394.7 953.2L393.7 952.9L392.7 952.4L391.7 953L390.7 953.4L389.7 953.6L388.7 953.6L387.7 953.5L386.7 953.1L385.7 953.3L384.7 953.7L383.7 954.2L382.7 954.6L381.7 954.7L380.7 954.7L379.7 954.5L378.7 954.1L377.7 953.5L376.7 952.6L375.7 950.8L374.7 950.4L373.7 951.1L372.7 955L371.7 956.2L370.7 957L369.7 957.5L368.7 957.7L367.7 957.8L366.7 957.8L365.7 957.5L364.7 957.1L363.7 956.4L362.7 955.3L361.7 953.5L360.7 955.7L359.7 956.8L358.7 957.5L357.7 957.9L356.7 958.2L355.7 958.2L354.7 958.1L353.7 957.9L352.7 957.4L351.7 957.4L350.7 957.3L349.7 957.1L348.7 956.7L347.7 956L346.7 954.9L345.7 954.2L344.7 954.1L343.7 953.7L342.7 953.2L341.7 952.3L340.7 950.9L339.7 951L338.7 951.3L337.7 951.3L336.7 951.4L335.7 951.6L334.7 951.7L333.7 951.5L332.7 951.2L331.7 950.6L330.7 952.8L329.7 953.9L328.7 954.6L327.7 955L326.7 955.3L325.7 955.3L324.7 955.2L323.7 954.9L322.7 954.5L321.7 953.7L320.7 952.4L319.7 950.5L318.7 950.6L317.7 950.6L316.7 950.5L315.7 950.3L314.7 950.4L313.7 950.8L312.7 951.3L311.7 952.2L310.7 952.8L309.7 953.2L308.7 953.4L307.7 953.4L306.7 953.3L305.7 952.9L304.7 952.4L303.7 951.5L302.7 951.8L301.7 952L300.7 951.9L299.7 951.8L298.7 951.4L297.7 950.8L296.7 950.1L295.7 950.7L294.7 952.3L293.7 953.4L292.7 954.1L291.7 954.5L290.7 954.7L289.7 954.8L288.7 954.7L287.7 954.4L286.7 953.9L285.7 953.1L284.7 951.9L283.7 950.4L282.7 950.9L281.7 952L280.7 952.9L279.7 953.4L278.7 953.7L277.7 953.9L276.7 953.9L275.7 954.8L274.7 955.6L273.7 956.2L272.7 956.5L271.7 956.6L270.7 956.6L269.7 956.4L268.7 956.1L267.7 955.5L266.7 955.2L265.7 954.7L264.7 953.9L263.7 952.7L262.7 952.1L261.7 953.4L260.7 954.1L259.7 954.6L258.7 954.9L257.7 955L256.7 955L255.7 954.7L254.7 954.3L253.7 954.8L252.7 955.3L251.7 955.7L250.7 955.8L249.7 955.8L248.7 955.6L247.7 955.2L246.7 954.6L245.7 953.7L244.7 955.8L243.7 957L242.7 957.8L241.7 958.2L240.7 958.5L239.7 958.6L238.7 958.6L237.7 958.3L236.7 957.9L235.7 957.2L234.7 956.1L233.7 953.9L232.7 951.8L231.7 952.1L230.7 952.2L229.7 952.1L228.7 951.9L227.7 951.9L226.7 953.6L225.7 954.5L224.7 955.2L223.7 955.5L222.7 955.7L221.7 955.8L220.7 955.6L219.7 955.3L218.7 954.7L217.7 953.9L216.7 952.4L215.7 951L214.7 951.1L213.7 951.2L212.7 952L211.7 952.6L210.7 953L209.7 953.2L208.7 953.2L207.7 953.1L206.7 952.9L205.7 953L204.7 952.9L203.7 952.7L202.7 952.4L201.7 951.7L200.7 950.8L199.7 950.6L198.7 950.6L197.7 950.5L196.7 950.1L195.7 949.6L194.7 950.9L193.7 952.1L192.7 952.9L191.7 953.4L190.7 953.7L189.7 953.8L188.7 953.7L187.7 953.5L186.7 953.1L185.7 952.7L184.7 952.9L183.7 953L182.7 952.9L181.7 952.6L180.7 952.2L179.7 951.9L178.7 951.5L177.7 950.8L176.7 949.7L175.7 947.5L174.7 946.3L173.7 944.6L172.7 946.6L171.7 948L170.7 948.8L169.7 949.4L168.7 949.7L167.7 949.9L166.7 951.6L165.7 952.5L164.7 953.1L163.7 953.5L162.7 953.7L161.7 953.7L160.7 953.6L159.7 953.2L158.7 952.7L157.7 951.8L156.7 950.4L155.7 950.3L154.7 950.3L153.7 950.1L152.7 950.4L151.7 950.6L150.7 950.7L149.7 951.2L148.7 951.9L147.7 952.3L146.7 952.6L145.7 952.9L144.7 953.3L143.7 953.4L142.7 953.5L141.7 953.3L140.7 953L139.7 952.4L138.7 952.1L137.7 952L136.7 951.6L135.7 951.1L134.7 950.8L133.7 950.7L132.7 950.9L131.7 950.9L130.7 950.7L129.7 950.3L128.7 949.8L127.7 949.7L126.7 949.3L125.7 949.2L124.7 949.7L123.7 951.2L122.7 952.1L121.7 952.7L120.7 953.1L119.7 953.3L118.7 953.3L117.7 953.5L116.7 953.7L115.7 953.7L114.7 953.6L113.7 954.2L112.7 955.3L111.7 956L110.7 956.4L109.7 956.7L108.7 956.7L107.7 956.6L106.7 956.3L105.7 955.9L104.7 955.1L103.7 953.9L102.7 951.6L101.7 951.6L100.7 951.4L99.7 951.1L98.7 950.4L97.7 949.5L96.7 947.7Z"/>
<rect x="103.2" y="648.1" width="737.4" height="454.6" fill="none" stroke="#7a7a7a" stroke-width="1.5"/><path d="M130.1 1102.7v-4M130.1 648.1v4M158.5 1102.7v-4M158.5 648.1v4M186.9 1102.7v-4M186.9 648.1v4M215.3 1102.7v-4M215.3 648.1v4M243.8 1102.7v-7M243.8 648.1v7M272.2 1102.7v-4M272.2 648.1v4M300.6 1102.7v-4M300.6 648.1v4M329 1102.7v-4M329 648.1v4M357.4 1102.7v-4M357.4 648.1v4M385.8 1102.7v-7M385.8 648.1v7M414.2 1102.7v-4M414.2 648.1v4M442.6 1102.7v-4M442.6 648.1v4M471 1102.7v-4M471 648.1v4M499.4 1102.7v-4M499.4 648.1v4M527.9 1102.7v-7M527.9 648.1v7M556.3 1102.7v-4M556.3 648.1v4M584.7 1102.7v-4M584.7 648.1v4M613.1 1102.7v-4M613.1 648.1v4M641.5 1102.7v-4M641.5 648.1v4M669.9 1102.7v-7M669.9 648.1v7M698.3 1102.7v-4M698.3 648.1v4M726.7 1102.7v-4M726.7 648.1v4M755.1 1102.7v-4M755.1 648.1v4M783.5 1102.7v-4M783.5 648.1v4M812 1102.7v-7M812 648.1v7M103.2 1087.6h4M840.6 1087.6h-4M103.2 1072.5h4M840.6 1072.5h-4M103.2 1057.3h4M840.6 1057.3h-4M103.2 1042.2h7M840.6 1042.2h-7M103.2 1027h4M840.6 1027h-4M103.2 1011.9h4M840.6 1011.9h-4M103.2 996.8h4M840.6 996.8h-4M103.2 981.6h7M840.6 981.6h-7M103.2 966.4h4M840.6 966.4h-4M103.2 951.3h4M840.6 951.3h-4M103.2 936.1h4M840.6 936.1h-4M103.2 921h7M840.6 921h-7M103.2 905.8h4M840.6 905.8h-4M103.2 890.7h4M840.6 890.7h-4M103.2 875.5h4M840.6 875.5h-4M103.2 860.4h7M840.6 860.4h-7M103.2 845.2h4M840.6 845.2h-4M103.2 830.1h4M840.6 830.1h-4M103.2 815h4M840.6 815h-4M103.2 799.8h7M840.6 799.8h-7M103.2 784.6h4M840.6 784.6h-4M103.2 769.5h4M840.6 769.5h-4M103.2 754.3h4M840.6 754.3h-4M103.2 739.2h7M840.6 739.2h-7M103.2 724h4M840.6 724h-4M103.2 708.9h4M840.6 708.9h-4M103.2 693.8h4M840.6 693.8h-4M103.2 678.6h7M840.6 678.6h-7M103.2 663.5h4M840.6 663.5h-4" stroke="#7a7a7a" stroke-width="1.3" fill="none"/>
<path d="M252 734.4L252 1103" stroke="#ff0000" stroke-width="3.5"/>
<path d="M268.4 733.2L268.4 1103" stroke="#ff0000" stroke-width="3.5"/>
<path d="M574 733L574 1103" stroke="#ff0000" stroke-width="3.5"/>
<path d="M588.7 733L588.7 1103" stroke="#ff0000" stroke-width="3.5"/>
<path d="M117.6 789.5H243.8" stroke="#000" stroke-width="2.4" fill="none"/><path d="M111.2 789.5l9.2 -5.1v10.2z" fill="#000"/><path d="M250.2 789.5l-9.2 -5.1v10.2z" fill="#000"/>
<path d="M259.9 1027H566.1" stroke="#000" stroke-width="2.4" fill="none"/><path d="M253.5 1027l9.2 -5.1v10.2z" fill="#000"/><path d="M572.5 1027l-9.2 -5.1v10.2z" fill="#000"/>
<g fill="#666666"><text x="102.2" y="1130.2" text-anchor="middle" font-size="24.3" textLength="13.3" lengthAdjust="spacingAndGlyphs">0</text><text x="244.2" y="1130.2" text-anchor="middle" font-size="24.3" textLength="53.4" lengthAdjust="spacingAndGlyphs">5000</text><text x="386.3" y="1130.2" text-anchor="middle" font-size="24.3" textLength="69.5" lengthAdjust="spacingAndGlyphs">10<tspan dx="2.4">000</tspan></text><text x="528.4" y="1130.2" text-anchor="middle" font-size="24.3" textLength="69.5" lengthAdjust="spacingAndGlyphs">15<tspan dx="2.4">000</tspan></text><text x="670.4" y="1130.2" text-anchor="middle" font-size="24.3" textLength="69.5" lengthAdjust="spacingAndGlyphs">20<tspan dx="2.4">000</tspan></text><text x="812.5" y="1130.2" text-anchor="middle" font-size="24.3" textLength="69.5" lengthAdjust="spacingAndGlyphs">25<tspan dx="2.4">000</tspan></text><text x="97.4" y="1112.3" text-anchor="end" font-size="24.3" textLength="13.3" lengthAdjust="spacingAndGlyphs">0</text><text x="97.4" y="1051.7" text-anchor="end" font-size="24.3" textLength="40" lengthAdjust="spacingAndGlyphs">200</text><text x="97.4" y="991.1" text-anchor="end" font-size="24.3" textLength="40" lengthAdjust="spacingAndGlyphs">400</text><text x="97.4" y="930.5" text-anchor="end" font-size="24.3" textLength="40" lengthAdjust="spacingAndGlyphs">600</text><text x="97.4" y="869.9" text-anchor="end" font-size="24.3" textLength="40" lengthAdjust="spacingAndGlyphs">800</text><text x="97.4" y="809.3" text-anchor="end" font-size="24.3" textLength="53.4" lengthAdjust="spacingAndGlyphs">1000</text><text x="97.4" y="748.7" text-anchor="end" font-size="24.3" textLength="53.4" lengthAdjust="spacingAndGlyphs">1200</text><text x="97.4" y="688.1" text-anchor="end" font-size="24.3" textLength="53.4" lengthAdjust="spacingAndGlyphs">1400</text></g>
<text font-size="32.2" fill="#000" stroke="#000" stroke-width="0.3" x="154.3" y="747.7" textLength="19.9" lengthAdjust="spacingAndGlyphs">Δ</text><text font-size="31" fill="#000" stroke="#000" stroke-width="0.35" x="175.5" y="747.7" textLength="9.6" lengthAdjust="spacingAndGlyphs">t</text><text font-size="20.5" fill="#000" stroke="#000" stroke-width="0.2" x="187.2" y="755.7">3</text>
<text x="425.6" y="1008.4" font-size="32.2" text-anchor="middle" fill="#000" stroke="#000" stroke-width="0.35" textLength="18.6" lengthAdjust="spacingAndGlyphs">T</text>
<text fill="#000" font-size="45" x="-4.2" y="613.8" textLength="13.4" lengthAdjust="spacingAndGlyphs">(</text><text fill="#000" font-size="45" x="14" y="613.8" textLength="20.2" lengthAdjust="spacingAndGlyphs">c</text><text fill="#000" font-size="45" x="35.6" y="613.8" textLength="13.4" lengthAdjust="spacingAndGlyphs">)</text>
<text transform="translate(30.7 874.9) rotate(-90)" text-anchor="middle" font-size="26.6" fill="#666666" textLength="79.3" lengthAdjust="spacingAndGlyphs">Counts</text>
<text x="471" y="1167" text-anchor="middle" font-size="25.8" fill="#666666" textLength="378" lengthAdjust="spacingAndGlyphs">Delayed time [ps] (offset 4.9[<tspan font-style="italic">μ</tspan>s])</text>
</g>
<g id="pd">
<g fill="#0000ff"><circle cx="976.2" cy="1050.7" r="6.2"/><circle cx="980.4" cy="1074.4" r="6.2"/><circle cx="981.9" cy="1039" r="6.2"/><circle cx="984.8" cy="1057.6" r="6.2"/><circle cx="987.7" cy="1055.3" r="6.2"/><circle cx="990.6" cy="1057.6" r="6.2"/><circle cx="993.5" cy="1046" r="6.2"/><circle cx="996.4" cy="1053" r="6.2"/><circle cx="999.3" cy="1043.7" r="6.2"/><circle cx="1002.2" cy="1071.6" r="6.2"/><circle cx="1005" cy="1034.4" r="6.2"/><circle cx="1007.9" cy="1053" r="6.2"/><circle cx="1010.8" cy="1043.7" r="6.2"/><circle cx="1013.7" cy="1053" r="6.2"/><circle cx="1017" cy="1035.1" r="6.2"/><circle cx="1020.2" cy="1076.9" r="6.2"/><circle cx="1022.4" cy="1043.7" r="6.2"/><circle cx="1025.3" cy="1053" r="6.2"/><circle cx="1028.2" cy="1053" r="6.2"/><circle cx="1031.6" cy="1030.7" r="6.2"/><circle cx="1033.9" cy="1062.3" r="6.2"/><circle cx="1036.8" cy="1066.9" r="6.2"/><circle cx="1040.4" cy="1021.8" r="6.2"/><circle cx="1042.6" cy="1059.9" r="6.2"/><circle cx="1046.2" cy="1000.5" r="6.2"/><circle cx="1044.2" cy="1031.4" r="6.2"/><circle cx="1051.3" cy="1057.6" r="6.2"/><circle cx="1054.2" cy="1064.6" r="6.2"/><circle cx="1057" cy="1066.9" r="6.2"/><circle cx="1059.9" cy="1050.7" r="6.2"/><circle cx="1062.8" cy="1041.4" r="6.2"/><circle cx="1066.4" cy="1074.4" r="6.2"/><circle cx="1068.3" cy="1032.1" r="6.2"/><circle cx="1070.8" cy="1032.1" r="6.2"/><circle cx="1075.8" cy="1076.9" r="6.2"/><circle cx="1077.3" cy="1055.3" r="6.2"/><circle cx="1080.2" cy="1046" r="6.2"/><circle cx="1083" cy="1041.4" r="6.2"/><circle cx="1085.9" cy="1053" r="6.2"/><circle cx="1088.8" cy="1059.9" r="6.2"/><circle cx="1091.7" cy="1048.3" r="6.2"/><circle cx="1094.6" cy="1048.3" r="6.2"/><circle cx="1098.6" cy="1035.1" r="6.2"/><circle cx="1100.4" cy="1064.6" r="6.2"/><circle cx="1103.3" cy="1059.9" r="6.2"/><circle cx="1107.4" cy="1072.5" r="6.2"/><circle cx="1109" cy="1069.2" r="6.2"/><circle cx="1111.9" cy="1050.7" r="6.2"/><circle cx="1114.8" cy="1046" r="6.2"/><circle cx="1117.7" cy="1059.9" r="6.2"/><circle cx="1120.6" cy="1036.7" r="6.2"/><circle cx="1122.5" cy="934.5" r="6.2"/><circle cx="1124.8" cy="846.1" r="6.2"/><circle cx="1127.8" cy="733.4" r="6.2"/><circle cx="1130.8" cy="806.6" r="6.2"/><circle cx="1133.9" cy="939.1" r="6.2"/><circle cx="1137.7" cy="1006" r="6.2"/><circle cx="1140.3" cy="1027.6" r="6.2"/><circle cx="1143.7" cy="1071.6" r="6.2"/><circle cx="1146.6" cy="1048.3" r="6.2"/><circle cx="1149.5" cy="1055.3" r="6.2"/><circle cx="1152.4" cy="1043.7" r="6.2"/><circle cx="1155.3" cy="1057.6" r="6.2"/><circle cx="1158.2" cy="1053" r="6.2"/><circle cx="1161.1" cy="1048.3" r="6.2"/><circle cx="1163.9" cy="1062.3" r="6.2"/><circle cx="1166.8" cy="1046" r="6.2"/><circle cx="1169.7" cy="1053" r="6.2"/><circle cx="1172.6" cy="1046" r="6.2"/><circle cx="1175.5" cy="1057.6" r="6.2"/><circle cx="1178.4" cy="1041.4" r="6.2"/><circle cx="1181.3" cy="1046" r="6.2"/><circle cx="1184.2" cy="1053" r="6.2"/><circle cx="1187.1" cy="1046" r="6.2"/><circle cx="1189.9" cy="1039" r="6.2"/><circle cx="1192.8" cy="1032.1" r="6.2"/><circle cx="1195.7" cy="1069.2" r="6.2"/><circle cx="1198.6" cy="1041.4" r="6.2"/><circle cx="1201.5" cy="1046" r="6.2"/><circle cx="1204.4" cy="1053" r="6.2"/><circle cx="1207.3" cy="1062.3" r="6.2"/><circle cx="1210.2" cy="1039" r="6.2"/><circle cx="1213.1" cy="1064.6" r="6.2"/><circle cx="1215.9" cy="1046" r="6.2"/><circle cx="1219.8" cy="1018.8" r="6.2"/><circle cx="1221.7" cy="1069.2" r="6.2"/><circle cx="1224.6" cy="1055.3" r="6.2"/><circle cx="1227.5" cy="1066.9" r="6.2"/><circle cx="1230.4" cy="1048.3" r="6.2"/><circle cx="1233.3" cy="1036.7" r="6.2"/><circle cx="1236.2" cy="1032.1" r="6.2"/><circle cx="1239.1" cy="1071.6" r="6.2"/><circle cx="1241.9" cy="1057.6" r="6.2"/><circle cx="1246.1" cy="1023.2" r="6.2"/><circle cx="1247.7" cy="1034.4" r="6.2"/><circle cx="1250.6" cy="1048.3" r="6.2"/><circle cx="1253.5" cy="1059.9" r="6.2"/><circle cx="1256.4" cy="1048.3" r="6.2"/><circle cx="1259.3" cy="1053" r="6.2"/><circle cx="1262.2" cy="1053" r="6.2"/><circle cx="1265.1" cy="1059.9" r="6.2"/><circle cx="1267.9" cy="1048.3" r="6.2"/><circle cx="1270.8" cy="1048.3" r="6.2"/><circle cx="1273.7" cy="1053" r="6.2"/><circle cx="1276.6" cy="1055.3" r="6.2"/><circle cx="1279.5" cy="1064.6" r="6.2"/><circle cx="1282.4" cy="1057.6" r="6.2"/><circle cx="1285.3" cy="1039" r="6.2"/><circle cx="1287" cy="1073.9" r="6.2"/><circle cx="1291.1" cy="1066.9" r="6.2"/><circle cx="1293.9" cy="1036.7" r="6.2"/><circle cx="1296.8" cy="1046" r="6.2"/><circle cx="1299.7" cy="1032.1" r="6.2"/><circle cx="1302.6" cy="1050.7" r="6.2"/><circle cx="1305.5" cy="1057.6" r="6.2"/><circle cx="1308.4" cy="1066.9" r="6.2"/><circle cx="1311.3" cy="1036.7" r="6.2"/><circle cx="1314.2" cy="1032.1" r="6.2"/><circle cx="1317.1" cy="1059.9" r="6.2"/><circle cx="1318.8" cy="1073.9" r="6.2"/><circle cx="1322.8" cy="1046" r="6.2"/><circle cx="1325.7" cy="1059.9" r="6.2"/><circle cx="1328.6" cy="1055.3" r="6.2"/><circle cx="1331.5" cy="1055.3" r="6.2"/><circle cx="1334.4" cy="1050.7" r="6.2"/><circle cx="1336.1" cy="1032.1" r="6.2"/><circle cx="1340.2" cy="1050.7" r="6.2"/><circle cx="1343.1" cy="1041.4" r="6.2"/><circle cx="1347.4" cy="1030.7" r="6.2"/><circle cx="1348.8" cy="1048.3" r="6.2"/><circle cx="1351.7" cy="1071.6" r="6.2"/><circle cx="1354.6" cy="1066.9" r="6.2"/><circle cx="1357.5" cy="1043.7" r="6.2"/><circle cx="1360.4" cy="1057.6" r="6.2"/><circle cx="1363.3" cy="1046" r="6.2"/><circle cx="1366.2" cy="1046" r="6.2"/><circle cx="1369.1" cy="1036.7" r="6.2"/><circle cx="1371.9" cy="1043.7" r="6.2"/><circle cx="1374.8" cy="1041.4" r="6.2"/><circle cx="1377.7" cy="1053" r="6.2"/><circle cx="1380.6" cy="1059.9" r="6.2"/><circle cx="1383.5" cy="1059.9" r="6.2"/><circle cx="1386.4" cy="1057.6" r="6.2"/><circle cx="1389.3" cy="1064.6" r="6.2"/><circle cx="1392.2" cy="1057.6" r="6.2"/><circle cx="1395.1" cy="1053" r="6.2"/><circle cx="1397.9" cy="1048.3" r="6.2"/><circle cx="1400.8" cy="1055.3" r="6.2"/><circle cx="1403.7" cy="1071.6" r="6.2"/><circle cx="1405.5" cy="1024.4" r="6.2"/><circle cx="1408.6" cy="987.9" r="6.2"/><circle cx="1411.8" cy="1022.5" r="6.2"/><circle cx="1415.3" cy="1046" r="6.2"/><circle cx="1419.3" cy="1076.9" r="6.2"/><circle cx="1421.1" cy="1059.9" r="6.2"/><circle cx="1424" cy="1032.1" r="6.2"/><circle cx="1426.8" cy="1043.7" r="6.2"/><circle cx="1429.7" cy="1032.1" r="6.2"/><circle cx="1432.6" cy="1032.1" r="6.2"/><circle cx="1435.5" cy="1059.9" r="6.2"/><circle cx="1438.4" cy="1048.3" r="6.2"/><circle cx="1441.3" cy="1046" r="6.2"/><circle cx="1444.2" cy="1046" r="6.2"/><circle cx="1447.1" cy="1046" r="6.2"/><circle cx="1450" cy="1050.7" r="6.2"/><circle cx="1452.8" cy="1050.7" r="6.2"/><circle cx="1455.7" cy="1066.9" r="6.2"/><circle cx="1458.6" cy="1053" r="6.2"/><circle cx="1461.5" cy="1059.9" r="6.2"/><circle cx="1464.4" cy="1050.7" r="6.2"/><circle cx="1467.3" cy="1057.6" r="6.2"/><circle cx="1470.2" cy="1046" r="6.2"/><circle cx="1474.4" cy="1022.5" r="6.2"/><circle cx="1476" cy="1048.3" r="6.2"/><circle cx="1478.8" cy="1048.3" r="6.2"/><circle cx="1481.7" cy="1050.7" r="6.2"/><circle cx="1484.6" cy="1057.6" r="6.2"/><circle cx="1487.5" cy="1053" r="6.2"/><circle cx="1490.1" cy="1024.4" r="6.2"/><circle cx="1493.3" cy="1048.3" r="6.2"/><circle cx="1496.2" cy="1050.7" r="6.2"/><circle cx="1499.1" cy="1046" r="6.2"/><circle cx="1503.4" cy="1018.8" r="6.2"/><circle cx="1504.8" cy="1041.4" r="6.2"/><circle cx="1507.7" cy="1059.9" r="6.2"/><circle cx="1510.6" cy="1059.9" r="6.2"/><circle cx="1513.5" cy="1053" r="6.2"/><circle cx="1516.4" cy="1057.6" r="6.2"/><circle cx="1519.3" cy="1048.3" r="6.2"/><circle cx="1522.2" cy="1057.6" r="6.2"/><circle cx="1523.9" cy="1072.7" r="6.2"/><circle cx="1528" cy="1059.9" r="6.2"/><circle cx="1530" cy="1027.6" r="6.2"/><circle cx="1533.7" cy="1050.7" r="6.2"/><circle cx="1536.6" cy="1064.6" r="6.2"/><circle cx="1539.5" cy="1050.7" r="6.2"/><circle cx="1542.4" cy="1069.2" r="6.2"/><circle cx="1545.3" cy="1032.1" r="6.2"/><circle cx="1548.2" cy="1069.2" r="6.2"/><circle cx="1551.1" cy="1046" r="6.2"/><circle cx="1554" cy="1046" r="6.2"/><circle cx="1556.8" cy="1066.9" r="6.2"/><circle cx="1559.7" cy="1048.3" r="6.2"/><circle cx="1562.6" cy="1041.4" r="6.2"/><circle cx="1564.4" cy="1027.6" r="6.2"/><circle cx="1567" cy="1027.6" r="6.2"/><circle cx="1571.3" cy="1041.4" r="6.2"/><circle cx="1574.2" cy="1050.7" r="6.2"/><circle cx="1577.1" cy="1048.3" r="6.2"/><circle cx="1580" cy="1053" r="6.2"/><circle cx="1582.8" cy="1046" r="6.2"/><circle cx="1585.7" cy="1062.3" r="6.2"/><circle cx="1588" cy="1018.8" r="6.2"/><circle cx="1591.5" cy="1057.6" r="6.2"/><circle cx="1594.4" cy="1064.6" r="6.2"/><circle cx="1597.3" cy="1048.3" r="6.2"/><circle cx="1600.2" cy="1034.4" r="6.2"/><circle cx="1603.1" cy="1041.4" r="6.2"/><circle cx="1606" cy="1057.6" r="6.2"/><circle cx="1608.8" cy="1043.7" r="6.2"/><circle cx="1611.7" cy="1057.6" r="6.2"/><circle cx="1614.6" cy="1053" r="6.2"/><circle cx="1617.5" cy="1050.7" r="6.2"/><circle cx="1619.2" cy="1071.6" r="6.2"/><circle cx="1623.3" cy="1050.7" r="6.2"/><circle cx="1626.2" cy="1062.3" r="6.2"/><circle cx="1629.1" cy="1059.9" r="6.2"/><circle cx="1632" cy="1066.9" r="6.2"/><circle cx="1634.8" cy="1066.9" r="6.2"/><circle cx="1637.7" cy="1062.3" r="6.2"/><circle cx="1640.6" cy="1043.7" r="6.2"/><circle cx="1643.5" cy="1034.4" r="6.2"/><circle cx="1646.4" cy="1053" r="6.2"/><circle cx="1649.3" cy="1039" r="6.2"/><circle cx="1652.2" cy="1055.3" r="6.2"/><circle cx="1655.1" cy="1071.6" r="6.2"/><circle cx="1658" cy="1050.7" r="6.2"/><circle cx="1660.8" cy="1046" r="6.2"/><circle cx="1663.2" cy="1078.5" r="6.2"/><circle cx="1666.3" cy="1020" r="6.2"/><circle cx="1669.5" cy="1046" r="6.2"/><circle cx="1672.4" cy="1059.9" r="6.2"/><circle cx="1675.3" cy="1066.9" r="6.2"/><circle cx="1678.2" cy="1055.3" r="6.2"/><circle cx="1681.1" cy="1053" r="6.2"/><circle cx="1684" cy="1055.3" r="6.2"/><circle cx="1686.8" cy="1041.4" r="6.2"/><circle cx="1689.7" cy="1034.4" r="6.2"/><circle cx="1692.6" cy="1055.3" r="6.2"/><circle cx="1695.5" cy="1043.7" r="6.2"/><circle cx="1698.4" cy="1041.4" r="6.2"/><circle cx="1701.3" cy="1043.7" r="6.2"/><circle cx="1704.2" cy="1041.4" r="6.2"/><circle cx="1707.1" cy="1055.3" r="6.2"/><circle cx="1710" cy="1043.7" r="6.2"/><circle cx="1712.9" cy="1032.1" r="6.2"/><circle cx="1715.7" cy="1043.7" r="6.2"/><circle cx="1718.6" cy="1057.6" r="6.2"/><circle cx="1721.5" cy="1046" r="6.2"/><circle cx="1724.4" cy="1039" r="6.2"/></g>
<rect x="976.2" y="650.3" width="750.6" height="464.1" fill="none" stroke="#7a7a7a" stroke-width="1.5"/><path d="M1003.9 1114.4v-4M1003.9 650.3v4M1032.8 1114.4v-4M1032.8 650.3v4M1061.7 1114.4v-4M1061.7 650.3v4M1090.6 1114.4v-4M1090.6 650.3v4M1119.5 1114.4v-7M1119.5 650.3v7M1148.3 1114.4v-4M1148.3 650.3v4M1177.2 1114.4v-4M1177.2 650.3v4M1206.1 1114.4v-4M1206.1 650.3v4M1235 1114.4v-4M1235 650.3v4M1263.9 1114.4v-7M1263.9 650.3v7M1292.8 1114.4v-4M1292.8 650.3v4M1321.7 1114.4v-4M1321.7 650.3v4M1350.6 1114.4v-4M1350.6 650.3v4M1379.5 1114.4v-4M1379.5 650.3v4M1408.3 1114.4v-7M1408.3 650.3v7M1437.2 1114.4v-4M1437.2 650.3v4M1466.1 1114.4v-4M1466.1 650.3v4M1495 1114.4v-4M1495 650.3v4M1523.9 1114.4v-4M1523.9 650.3v4M1552.8 1114.4v-7M1552.8 650.3v7M1581.7 1114.4v-4M1581.7 650.3v4M1610.6 1114.4v-4M1610.6 650.3v4M1639.5 1114.4v-4M1639.5 650.3v4M1668.4 1114.4v-4M1668.4 650.3v4M1697.2 1114.4v-7M1697.2 650.3v7M976.2 1090.2h4M1726.8 1090.2h-4M976.2 1066.9h4M1726.8 1066.9h-4M976.2 1043.7h4M1726.8 1043.7h-4M976.2 1020.4h4M1726.8 1020.4h-4M976.2 997.2h7M1726.8 997.2h-7M976.2 974h4M1726.8 974h-4M976.2 950.7h4M1726.8 950.7h-4M976.2 927.5h4M1726.8 927.5h-4M976.2 904.2h4M1726.8 904.2h-4M976.2 881h7M1726.8 881h-7M976.2 857.8h4M1726.8 857.8h-4M976.2 834.5h4M1726.8 834.5h-4M976.2 811.3h4M1726.8 811.3h-4M976.2 788h4M1726.8 788h-4M976.2 764.8h7M1726.8 764.8h-7M976.2 741.6h4M1726.8 741.6h-4M976.2 718.3h4M1726.8 718.3h-4M976.2 695.1h4M1726.8 695.1h-4M976.2 671.8h4M1726.8 671.8h-4" stroke="#7a7a7a" stroke-width="1.3" fill="none"/>
<path d="M1117.7 743.5L1117.7 1113" stroke="#ff0000" stroke-width="3.5"/>
<path d="M1134.1 743.5L1134.1 1113" stroke="#ff0000" stroke-width="3.5"/>
<path d="M984.4 800.2H1110" stroke="#000" stroke-width="2.4" fill="none"/><path d="M978 800.2l9.2 -5.1v10.2z" fill="#000"/><path d="M1116.4 800.2l-9.2 -5.1v10.2z" fill="#000"/>
<g fill="#666666"><text x="975.5" y="1140.3" text-anchor="middle" font-size="24.3" textLength="13.3" lengthAdjust="spacingAndGlyphs">0</text><text x="1120" y="1140.3" text-anchor="middle" font-size="24.3" textLength="53.4" lengthAdjust="spacingAndGlyphs">5000</text><text x="1264.4" y="1140.3" text-anchor="middle" font-size="24.3" textLength="69.5" lengthAdjust="spacingAndGlyphs">10<tspan dx="2.4">000</tspan></text><text x="1408.8" y="1140.3" text-anchor="middle" font-size="24.3" textLength="69.5" lengthAdjust="spacingAndGlyphs">15<tspan dx="2.4">000</tspan></text><text x="1553.3" y="1140.3" text-anchor="middle" font-size="24.3" textLength="69.5" lengthAdjust="spacingAndGlyphs">20<tspan dx="2.4">000</tspan></text><text x="1697.8" y="1140.3" text-anchor="middle" font-size="24.3" textLength="69.5" lengthAdjust="spacingAndGlyphs">25<tspan dx="2.4">000</tspan></text><text x="970.4" y="1122.9" text-anchor="end" font-size="24.3" textLength="13.3" lengthAdjust="spacingAndGlyphs">0</text><text x="970.4" y="1006.7" text-anchor="end" font-size="24.3" textLength="26.7" lengthAdjust="spacingAndGlyphs">50</text><text x="970.4" y="890.5" text-anchor="end" font-size="24.3" textLength="40" lengthAdjust="spacingAndGlyphs">100</text><text x="970.4" y="774.3" text-anchor="end" font-size="24.3" textLength="40" lengthAdjust="spacingAndGlyphs">150</text><text x="970.4" y="658.1" text-anchor="end" font-size="24.3" textLength="40" lengthAdjust="spacingAndGlyphs">200</text></g>
<text font-size="32.2" fill="#000" stroke="#000" stroke-width="0.3" x="1020" y="777" textLength="19.9" lengthAdjust="spacingAndGlyphs">Δ</text><text font-size="31" fill="#000" stroke="#000" stroke-width="0.35" x="1040.9" y="777" textLength="9.6" lengthAdjust="spacingAndGlyphs">t</text><text font-size="20.5" fill="#000" stroke="#000" stroke-width="0.2" x="1053.1" y="785">3</text>
<text fill="#000" font-size="45" x="883.4" y="613.8" textLength="13.4" lengthAdjust="spacingAndGlyphs">(</text><text fill="#000" font-size="45" x="899.4" y="613.8">d</text><text fill="#000" font-size="45" x="925.8" y="613.8" textLength="13.4" lengthAdjust="spacingAndGlyphs">)</text>
<text transform="translate(915.3 881.9) rotate(-90)" text-anchor="middle" font-size="26.6" fill="#666666" textLength="79.3" lengthAdjust="spacingAndGlyphs">Counts</text>
<text x="1351" y="1178" text-anchor="middle" font-size="25.8" fill="#666666" textLength="378" lengthAdjust="spacingAndGlyphs">Delayed time [ps] (offset 4.9[<tspan font-style="italic">μ</tspan>s])</text>
</g>
</svg>
</body></html>
